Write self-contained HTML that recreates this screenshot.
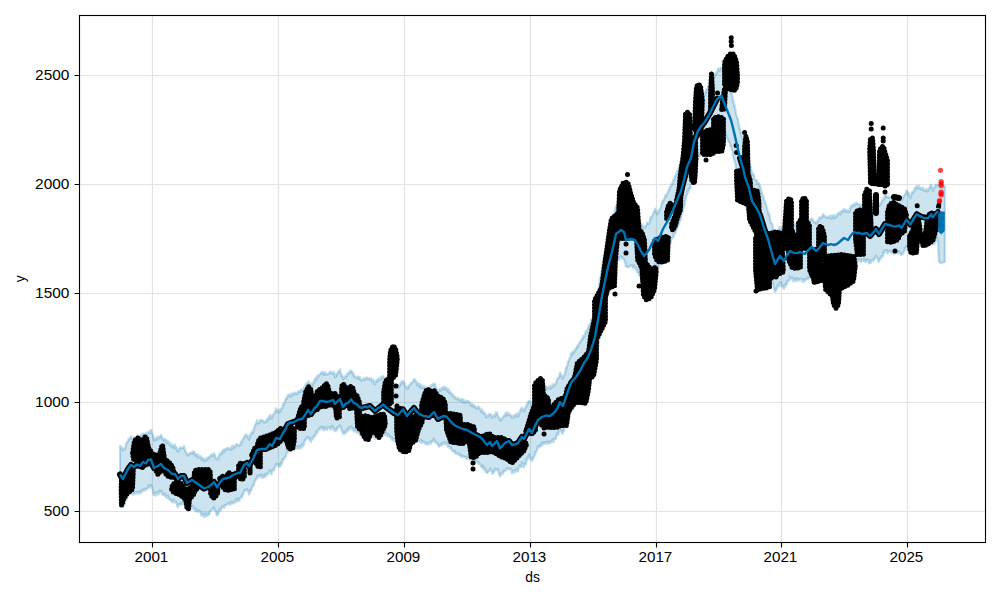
<!DOCTYPE html>
<html><head><meta charset="utf-8"><style>html,body{margin:0;padding:0;background:#fff;width:1000px;height:600px;overflow:hidden}svg{display:block}</style></head><body>
<svg width="1000" height="600" viewBox="0 0 1000 600">
<rect width="1000" height="600" fill="#fff"/>
<path d="M79.5 511.50H985.5 M79.5 402.50H985.5 M79.5 293.50H985.5 M79.5 184.50H985.5 M79.5 75.50H985.5 M152.50 15.5V542.5 M278.50 15.5V542.5 M404.50 15.5V542.5 M530.50 15.5V542.5 M656.50 15.5V542.5 M781.50 15.5V542.5 M907.50 15.5V542.5" stroke="#e3e3e3" stroke-width="1.2" fill="none"/>
<polygon points="120.0,445.9 120.5,447.8 121.0,448.1 121.5,447.2 122.0,447.8 122.5,448.7 123.0,450.7 123.5,448.6 124.0,449.5 124.5,448.3 125.0,448.7 125.5,447.3 126.0,443.7 126.5,443.3 127.0,441.9 127.5,442.5 128.0,441.2 128.5,438.7 129.0,440.3 129.5,438.3 130.0,438.2 130.5,438.7 131.0,436.1 131.5,437.4 132.0,438.5 132.5,439.7 133.0,438.0 133.5,437.4 134.0,437.3 134.5,439.5 135.0,439.5 135.5,438.5 136.0,437.6 136.5,438.1 137.0,436.4 137.5,435.2 138.0,437.5 138.5,438.4 139.0,437.1 139.5,436.0 140.0,436.8 140.5,435.7 141.0,435.3 141.5,435.6 142.0,433.8 142.5,434.8 143.0,435.1 143.5,433.5 144.0,434.0 144.5,436.4 145.0,433.8 145.5,434.3 146.0,435.8 146.5,432.8 147.0,433.3 147.5,434.5 148.0,432.1 148.5,432.6 149.0,433.3 149.5,433.1 150.0,431.3 150.5,430.2 151.0,429.9 151.5,431.9 152.0,433.8 152.5,434.0 153.0,435.7 153.5,436.9 154.0,440.4 154.5,438.9 155.0,439.0 155.5,440.5 156.0,438.9 156.5,437.3 157.0,437.9 157.5,439.4 158.0,436.3 158.5,437.8 159.0,437.5 159.5,437.1 160.0,438.0 160.5,435.5 161.0,434.8 161.5,436.8 162.0,436.7 162.5,439.1 163.0,439.9 163.5,440.5 164.0,439.0 164.5,439.7 165.0,438.8 165.5,439.9 166.0,442.6 166.5,442.8 167.0,443.1 167.5,440.7 168.0,440.9 168.5,442.9 169.0,444.2 169.5,444.1 170.0,442.5 170.5,446.0 171.0,445.9 171.5,444.3 172.0,445.4 172.5,447.7 173.0,445.6 173.5,446.8 174.0,444.7 174.5,447.5 175.0,444.7 175.5,448.6 176.0,447.1 176.5,447.2 177.0,451.0 177.5,450.3 178.0,450.8 178.5,451.7 179.0,449.1 179.5,448.6 180.0,448.1 180.5,447.2 181.0,447.5 181.5,448.3 182.0,447.7 182.5,448.0 183.0,448.1 183.5,447.8 184.0,446.2 184.5,448.0 185.0,451.1 185.5,450.9 186.0,452.9 186.5,452.4 187.0,454.1 187.5,455.7 188.0,454.6 188.5,455.6 189.0,454.2 189.5,453.5 190.0,453.0 190.5,452.8 191.0,453.3 191.5,453.9 192.0,452.2 192.5,453.6 193.0,451.3 193.5,451.5 194.0,451.8 194.5,454.7 195.0,452.8 195.5,454.9 196.0,456.0 196.5,454.0 197.0,455.0 197.5,457.4 198.0,454.8 198.5,456.4 199.0,455.7 199.5,457.9 200.0,457.7 200.5,456.1 201.0,458.7 201.5,457.1 202.0,460.0 202.5,458.0 203.0,458.1 203.5,459.3 204.0,460.2 204.5,461.5 205.0,458.9 205.5,460.2 206.0,458.3 206.5,460.2 207.0,457.8 207.5,459.7 208.0,457.5 208.5,457.0 209.0,458.0 209.5,457.9 210.0,456.5 210.5,457.0 211.0,455.1 211.5,454.5 212.0,455.0 212.5,456.2 213.0,454.8 213.5,453.9 214.0,453.1 214.5,455.8 215.0,454.7 215.5,458.3 216.0,458.8 216.5,458.6 217.0,459.1 217.5,459.5 218.0,457.5 218.5,458.1 219.0,456.3 219.5,454.4 220.0,453.7 220.5,453.7 221.0,452.3 221.5,454.5 222.0,451.6 222.5,451.0 223.0,449.8 223.5,450.0 224.0,452.5 224.5,449.7 225.0,449.8 225.5,448.6 226.0,450.2 226.5,449.0 227.0,448.2 227.5,448.3 228.0,447.9 228.5,448.5 229.0,449.3 229.5,449.7 230.0,449.3 230.5,447.9 231.0,449.7 231.5,448.6 232.0,445.9 232.5,448.7 233.0,447.8 233.5,445.5 234.0,446.6 234.5,447.5 235.0,446.5 235.5,446.7 236.0,444.8 236.5,444.3 237.0,444.0 237.5,445.4 238.0,445.5 238.5,445.0 239.0,446.1 239.5,445.0 240.0,445.6 240.5,444.9 241.0,441.5 241.5,442.8 242.0,441.9 242.5,440.0 243.0,438.9 243.5,439.0 244.0,437.5 244.5,435.4 245.0,437.2 245.5,436.2 246.0,434.1 246.5,436.0 247.0,435.6 247.5,435.8 248.0,436.4 248.5,438.7 249.0,439.7 249.5,435.4 250.0,437.4 250.5,435.2 251.0,433.5 251.5,432.6 252.0,431.5 252.5,433.5 253.0,432.2 253.5,431.3 254.0,427.8 254.5,427.6 255.0,424.7 255.5,425.2 256.0,423.0 256.5,422.5 257.0,420.2 257.5,423.1 258.0,423.3 258.5,423.1 259.0,421.0 259.5,423.2 260.0,420.7 260.5,420.3 261.0,419.6 261.5,420.2 262.0,420.1 262.5,421.0 263.0,420.5 263.5,422.4 264.0,421.5 264.5,422.6 265.0,421.8 265.5,421.8 266.0,421.9 266.5,419.6 267.0,421.3 267.5,419.0 268.0,417.8 268.5,419.6 269.0,417.8 269.5,416.8 270.0,414.8 270.5,415.4 271.0,417.0 271.5,419.0 272.0,417.8 272.5,415.9 273.0,415.4 273.5,414.1 274.0,414.3 274.5,413.9 275.0,411.7 275.5,410.6 276.0,408.4 276.5,411.8 277.0,410.3 277.5,411.7 278.0,409.7 278.5,410.3 279.0,412.4 279.5,412.2 280.0,409.3 280.5,411.5 281.0,409.4 281.5,407.8 282.0,408.4 282.5,408.0 283.0,404.0 283.5,404.5 284.0,405.1 284.5,403.1 285.0,401.5 285.5,399.0 286.0,398.8 286.5,399.3 287.0,396.5 287.5,397.4 288.0,394.6 288.5,395.9 289.0,395.2 289.5,395.8 290.0,394.5 290.5,396.7 291.0,396.3 291.5,393.7 292.0,396.2 292.5,393.6 293.0,394.1 293.5,393.6 294.0,394.4 294.5,392.6 295.0,392.8 295.5,393.8 296.0,394.1 296.5,392.9 297.0,394.4 297.5,393.7 298.0,391.3 298.5,391.4 299.0,392.0 299.5,390.8 300.0,392.3 300.5,390.2 301.0,390.3 301.5,389.9 302.0,389.4 302.5,391.7 303.0,390.3 303.5,390.3 304.0,386.9 304.5,388.1 305.0,387.1 305.5,385.3 306.0,383.8 306.5,383.5 307.0,385.1 307.5,384.4 308.0,381.5 308.5,383.8 309.0,381.7 309.5,383.5 310.0,383.6 310.5,386.8 311.0,385.7 311.5,386.2 312.0,382.9 312.5,385.3 313.0,384.0 313.5,381.8 314.0,383.3 314.5,380.1 315.0,379.6 315.5,377.7 316.0,380.3 316.5,379.7 317.0,376.4 317.5,378.3 318.0,375.5 318.5,374.9 319.0,376.0 319.5,374.8 320.0,374.2 320.5,373.5 321.0,372.5 321.5,374.3 322.0,372.2 322.5,372.5 323.0,371.8 323.5,373.0 324.0,375.0 324.5,372.9 325.0,372.4 325.5,374.7 326.0,373.0 326.5,374.3 327.0,374.6 327.5,374.2 328.0,374.7 328.5,373.5 329.0,374.0 329.5,372.1 330.0,371.6 330.5,373.0 331.0,372.2 331.5,372.5 332.0,373.4 332.5,373.9 333.0,371.9 333.5,374.2 334.0,372.3 334.5,373.6 335.0,377.7 335.5,377.0 336.0,376.3 336.5,373.6 337.0,375.6 337.5,373.8 338.0,372.0 338.5,371.2 339.0,371.1 339.5,372.0 340.0,369.2 340.5,373.0 341.0,373.0 341.5,376.1 342.0,374.8 342.5,377.3 343.0,379.5 343.5,377.3 344.0,377.7 344.5,376.9 345.0,376.4 345.5,376.1 346.0,377.5 346.5,375.2 347.0,376.1 347.5,373.0 348.0,374.0 348.5,373.5 349.0,373.2 349.5,371.2 350.0,372.9 350.5,370.5 351.0,371.0 351.5,370.8 352.0,372.7 352.5,371.8 353.0,374.9 353.5,373.3 354.0,376.6 354.5,375.3 355.0,377.2 355.5,377.4 356.0,377.4 356.5,377.6 357.0,376.5 357.5,378.4 358.0,376.5 358.5,377.9 359.0,376.8 359.5,379.2 360.0,377.1 360.5,380.0 361.0,380.6 361.5,380.0 362.0,380.5 362.5,379.6 363.0,379.5 363.5,379.4 364.0,377.8 364.5,379.3 365.0,380.2 365.5,379.0 366.0,378.9 366.5,377.5 367.0,377.3 367.5,378.7 368.0,379.0 368.5,379.2 369.0,378.3 369.5,378.1 370.0,379.6 370.5,379.8 371.0,379.8 371.5,378.4 372.0,380.0 372.5,382.0 373.0,382.0 373.5,379.9 374.0,382.9 374.5,383.9 375.0,384.1 375.5,382.6 376.0,381.1 376.5,381.8 377.0,379.7 377.5,379.7 378.0,381.2 378.5,379.0 379.0,378.4 379.5,379.8 380.0,380.3 380.5,378.8 381.0,376.7 381.5,378.2 382.0,378.4 382.5,378.7 383.0,376.0 383.5,376.7 384.0,378.3 384.5,379.0 385.0,378.8 385.5,379.0 386.0,378.5 386.5,377.9 387.0,380.4 387.5,380.4 388.0,379.3 388.5,381.6 389.0,379.5 389.5,380.2 390.0,381.0 390.5,382.7 391.0,383.2 391.5,381.8 392.0,382.6 392.5,382.4 393.0,385.6 393.5,384.3 394.0,383.2 394.5,385.5 395.0,386.0 395.5,387.3 396.0,385.1 396.5,384.6 397.0,386.2 397.5,385.2 398.0,385.2 398.5,388.0 399.0,384.8 399.5,385.4 400.0,385.9 400.5,383.6 401.0,382.1 401.5,384.2 402.0,380.8 402.5,382.9 403.0,382.4 403.5,381.3 404.0,382.2 404.5,383.3 405.0,385.5 405.5,386.3 406.0,386.6 406.5,388.2 407.0,387.2 407.5,389.1 408.0,388.2 408.5,385.4 409.0,386.6 409.5,386.0 410.0,385.9 410.5,383.1 411.0,383.9 411.5,383.5 412.0,382.2 412.5,382.4 413.0,380.9 413.5,380.8 414.0,379.0 414.5,379.1 415.0,380.1 415.5,380.6 416.0,382.1 416.5,381.6 417.0,384.7 417.5,385.0 418.0,383.0 418.5,384.4 419.0,386.3 419.5,383.9 420.0,387.2 420.5,384.6 421.0,384.9 421.5,387.8 422.0,387.3 422.5,387.6 423.0,386.0 423.5,388.6 424.0,387.3 424.5,386.4 425.0,387.4 425.5,387.8 426.0,390.1 426.5,389.8 427.0,386.9 427.5,388.5 428.0,388.2 428.5,389.0 429.0,390.3 429.5,389.7 430.0,386.2 430.5,388.4 431.0,385.2 431.5,386.5 432.0,384.9 432.5,384.9 433.0,384.1 433.5,383.7 434.0,384.7 434.5,383.5 435.0,384.2 435.5,387.3 436.0,388.0 436.5,388.0 437.0,390.7 437.5,391.5 438.0,389.9 438.5,392.2 439.0,390.1 439.5,389.3 440.0,390.1 440.5,390.7 441.0,389.0 441.5,388.0 442.0,389.6 442.5,387.6 443.0,389.5 443.5,386.9 444.0,389.4 444.5,387.1 445.0,389.1 445.5,387.3 446.0,387.8 446.5,388.9 447.0,388.4 447.5,391.3 448.0,388.8 448.5,389.4 449.0,393.1 449.5,392.8 450.0,391.5 450.5,391.8 451.0,393.4 451.5,394.0 452.0,395.7 452.5,395.8 453.0,394.4 453.5,395.7 454.0,397.8 454.5,396.9 455.0,396.7 455.5,398.1 456.0,398.7 456.5,399.3 457.0,398.8 457.5,398.0 458.0,397.6 458.5,400.2 459.0,399.9 459.5,399.3 460.0,400.2 460.5,400.6 461.0,399.1 461.5,401.4 462.0,400.6 462.5,399.1 463.0,399.8 463.5,402.7 464.0,399.8 464.5,401.5 465.0,401.5 465.5,402.8 466.0,401.4 466.5,400.8 467.0,401.6 467.5,400.9 468.0,402.1 468.5,402.1 469.0,401.4 469.5,403.2 470.0,403.3 470.5,403.1 471.0,406.0 471.5,403.7 472.0,404.6 472.5,403.9 473.0,406.6 473.5,405.6 474.0,405.0 474.5,405.7 475.0,407.6 475.5,406.6 476.0,407.2 476.5,408.5 477.0,408.8 477.5,407.3 478.0,407.7 478.5,406.5 479.0,407.7 479.5,408.0 480.0,408.7 480.5,410.1 481.0,411.7 481.5,409.1 482.0,412.7 482.5,410.6 483.0,412.9 483.5,411.2 484.0,414.1 484.5,412.7 485.0,413.8 485.5,414.7 486.0,417.3 486.5,415.2 487.0,417.4 487.5,417.1 488.0,417.0 488.5,414.4 489.0,415.1 489.5,414.3 490.0,414.2 490.5,414.0 491.0,416.0 491.5,416.9 492.0,418.0 492.5,417.6 493.0,415.2 493.5,416.4 494.0,416.6 494.5,415.0 495.0,416.7 495.5,415.0 496.0,412.3 496.5,414.2 497.0,412.4 497.5,414.3 498.0,416.9 498.5,417.5 499.0,417.4 499.5,418.8 500.0,420.6 500.5,418.9 501.0,419.1 501.5,420.0 502.0,419.5 502.5,417.8 503.0,417.2 503.5,417.2 504.0,415.5 504.5,414.8 505.0,415.5 505.5,413.1 506.0,415.9 506.5,412.6 507.0,412.2 507.5,415.3 508.0,414.1 508.5,414.7 509.0,413.4 509.5,414.4 510.0,415.0 510.5,415.6 511.0,416.6 511.5,415.2 512.0,418.0 512.5,417.4 513.0,417.8 513.5,416.7 514.0,415.6 514.5,415.5 515.0,416.5 515.5,414.2 516.0,414.0 516.5,416.6 517.0,416.8 517.5,413.4 518.0,415.3 518.5,416.0 519.0,413.2 519.5,413.3 520.0,410.7 520.5,409.5 521.0,409.1 521.5,408.3 522.0,407.7 522.5,410.3 523.0,410.8 523.5,408.9 524.0,411.8 524.5,410.8 525.0,409.5 525.5,407.9 526.0,406.1 526.5,406.8 527.0,403.3 527.5,405.1 528.0,402.3 528.5,400.8 529.0,401.0 529.5,401.2 530.0,402.1 530.5,401.7 531.0,403.2 531.5,404.8 532.0,404.6 532.5,405.5 533.0,403.1 533.5,400.2 534.0,401.4 534.5,399.0 535.0,400.2 535.5,397.8 536.0,396.1 536.5,394.8 537.0,394.5 537.5,394.2 538.0,390.2 538.5,391.3 539.0,392.4 539.5,389.2 540.0,391.6 540.5,390.4 541.0,391.0 541.5,390.0 542.0,388.4 542.5,389.0 543.0,387.5 543.5,390.0 544.0,388.6 544.5,387.9 545.0,387.0 545.5,388.7 546.0,386.0 546.5,388.5 547.0,387.9 547.5,389.1 548.0,387.7 548.5,386.7 549.0,386.7 549.5,387.4 550.0,387.6 550.5,386.4 551.0,389.0 551.5,385.5 552.0,387.5 552.5,386.5 553.0,385.8 553.5,383.7 554.0,386.3 554.5,384.6 555.0,384.7 555.5,384.6 556.0,383.5 556.5,380.8 557.0,379.9 557.5,378.3 558.0,378.9 558.5,377.3 559.0,377.8 559.5,375.5 560.0,372.6 560.5,373.8 561.0,375.8 561.5,376.6 562.0,376.5 562.5,379.0 563.0,377.0 563.5,375.6 564.0,376.4 564.5,374.7 565.0,373.0 565.5,371.0 566.0,367.4 566.5,368.4 567.0,366.6 567.5,365.0 568.0,361.8 568.5,361.0 569.0,360.4 569.5,358.2 570.0,358.4 570.5,357.2 571.0,353.3 571.5,353.4 572.0,355.1 572.5,351.9 573.0,351.1 573.5,353.2 574.0,351.2 574.5,352.0 575.0,350.7 575.5,348.6 576.0,349.8 576.5,347.0 577.0,346.7 577.5,345.5 578.0,347.2 578.5,344.1 579.0,343.8 579.5,342.4 580.0,341.4 580.5,342.6 581.0,340.9 581.5,339.1 582.0,338.5 582.5,339.8 583.0,335.6 583.5,337.4 584.0,335.8 584.5,336.1 585.0,334.8 585.5,331.7 586.0,333.5 586.5,330.5 587.0,332.5 587.5,330.1 588.0,327.6 588.5,328.4 589.0,325.0 589.5,325.8 590.0,323.4 590.5,323.5 591.0,323.1 591.5,319.3 592.0,319.6 592.5,317.9 593.0,316.6 593.5,315.1 594.0,312.2 594.5,312.1 595.0,310.3 595.5,305.0 596.0,302.7 596.5,299.8 597.0,295.6 597.5,294.3 598.0,290.2 598.5,289.8 599.0,285.2 599.5,282.5 600.0,278.4 600.5,278.6 601.0,274.0 601.5,271.1 602.0,269.7 602.5,264.4 603.0,262.1 603.5,258.8 604.0,258.7 604.5,253.9 605.0,253.5 605.5,251.6 606.0,249.8 606.5,244.5 607.0,243.7 607.5,240.6 608.0,238.7 608.5,237.5 609.0,234.0 609.5,234.3 610.0,232.7 610.5,229.2 611.0,229.0 611.5,225.5 612.0,225.0 612.5,220.8 613.0,219.3 613.5,218.3 614.0,216.1 614.5,211.1 615.0,212.1 615.5,207.3 616.0,206.5 616.5,205.7 617.0,205.0 617.5,203.1 618.0,206.1 618.5,205.6 619.0,204.7 619.5,204.6 620.0,203.3 620.5,203.0 621.0,202.2 621.5,202.8 622.0,202.7 622.5,204.6 623.0,202.6 623.5,202.3 624.0,205.6 624.5,205.2 625.0,208.1 625.5,208.6 626.0,211.3 626.5,211.1 627.0,210.3 627.5,212.9 628.0,211.9 628.5,210.4 629.0,211.3 629.5,211.7 630.0,210.5 630.5,210.1 631.0,210.6 631.5,209.4 632.0,212.6 632.5,211.6 633.0,210.7 633.5,210.9 634.0,210.5 634.5,213.2 635.0,210.4 635.5,212.6 636.0,212.3 636.5,216.2 637.0,214.1 637.5,215.6 638.0,217.4 638.5,219.1 639.0,219.7 639.5,220.7 640.0,221.7 640.5,223.1 641.0,223.8 641.5,224.4 642.0,224.3 642.5,225.5 643.0,227.2 643.5,227.5 644.0,227.8 644.5,228.2 645.0,226.4 645.5,225.8 646.0,226.6 646.5,225.0 647.0,223.3 647.5,222.5 648.0,223.5 648.5,224.1 649.0,223.2 649.5,222.7 650.0,219.7 650.5,217.2 651.0,218.2 651.5,218.5 652.0,216.1 652.5,215.1 653.0,214.7 653.5,212.5 654.0,211.5 654.5,211.6 655.0,208.6 655.5,210.1 656.0,211.3 656.5,213.2 657.0,211.8 657.5,214.3 658.0,213.1 658.5,210.6 659.0,212.3 659.5,209.4 660.0,209.6 660.5,208.2 661.0,207.2 661.5,203.4 662.0,203.4 662.5,201.1 663.0,201.5 663.5,199.6 664.0,199.7 664.5,198.1 665.0,196.8 665.5,194.8 666.0,197.0 666.5,195.5 667.0,194.0 667.5,192.2 668.0,192.1 668.5,191.3 669.0,188.6 669.5,189.9 670.0,186.6 670.5,187.1 671.0,186.4 671.5,183.4 672.0,185.0 672.5,183.8 673.0,180.8 673.5,179.4 674.0,179.9 674.5,178.2 675.0,175.6 675.5,176.3 676.0,174.6 676.5,172.7 677.0,174.0 677.5,170.5 678.0,171.1 678.5,169.2 679.0,167.7 679.5,165.6 680.0,166.1 680.5,163.5 681.0,162.9 681.5,160.2 682.0,158.8 682.5,159.2 683.0,155.9 683.5,154.0 684.0,151.7 684.5,148.5 685.0,147.1 685.5,144.4 686.0,142.4 686.5,141.8 687.0,137.8 687.5,136.4 688.0,138.0 688.5,135.4 689.0,135.6 689.5,132.8 690.0,131.8 690.5,130.1 691.0,130.0 691.5,127.2 692.0,125.4 692.5,123.4 693.0,118.9 693.5,117.1 694.0,115.3 694.5,112.7 695.0,110.4 695.5,109.5 696.0,108.7 696.5,106.7 697.0,104.6 697.5,103.7 698.0,101.6 698.5,101.8 699.0,100.9 699.5,100.3 700.0,99.0 700.5,98.9 701.0,100.5 701.5,99.7 702.0,96.3 702.5,95.3 703.0,96.9 703.5,95.4 704.0,95.7 704.5,95.4 705.0,93.8 705.5,91.1 706.0,92.5 706.5,89.2 707.0,88.8 707.5,88.5 708.0,86.7 708.5,88.0 709.0,87.9 709.5,86.6 710.0,84.8 710.5,83.5 711.0,84.2 711.5,81.2 712.0,82.3 712.5,78.4 713.0,77.6 713.5,77.0 714.0,77.9 714.5,76.7 715.0,75.9 715.5,73.2 716.0,74.6 716.5,73.5 717.0,71.9 717.5,71.1 718.0,68.7 718.5,69.6 719.0,71.1 719.5,70.1 720.0,69.5 720.5,67.6 721.0,69.7 721.5,67.8 722.0,67.3 722.5,70.1 723.0,71.3 723.5,74.0 724.0,73.5 724.5,75.8 725.0,78.5 725.5,77.5 726.0,78.1 726.5,80.1 727.0,82.1 727.5,82.0 728.0,84.8 728.5,86.7 729.0,85.6 729.5,87.7 730.0,87.9 730.5,89.6 731.0,91.8 731.5,93.4 732.0,95.5 732.5,96.5 733.0,101.8 733.5,100.5 734.0,105.7 734.5,104.8 735.0,108.1 735.5,110.7 736.0,114.2 736.5,115.3 737.0,117.5 737.5,118.3 738.0,119.6 738.5,124.7 739.0,124.5 739.5,129.1 740.0,128.8 740.5,132.9 741.0,132.7 741.5,136.2 742.0,136.2 742.5,137.9 743.0,139.1 743.5,142.5 744.0,145.7 744.5,148.2 745.0,149.0 745.5,149.1 746.0,152.0 746.5,153.8 747.0,154.3 747.5,154.4 748.0,157.0 748.5,159.4 749.0,161.2 749.5,163.2 750.0,163.6 750.5,166.6 751.0,168.1 751.5,171.4 752.0,174.5 752.5,173.1 753.0,174.8 753.5,174.3 754.0,175.6 754.5,178.7 755.0,179.1 755.5,180.3 756.0,180.5 756.5,180.8 757.0,180.3 757.5,183.6 758.0,183.5 758.5,183.4 759.0,183.3 759.5,186.6 760.0,185.5 760.5,188.2 761.0,189.9 761.5,192.1 762.0,192.1 762.5,196.5 763.0,195.4 763.5,197.5 764.0,200.1 764.5,201.3 765.0,201.8 765.5,202.7 766.0,205.8 766.5,206.5 767.0,208.0 767.5,209.8 768.0,211.9 768.5,214.6 769.0,213.2 769.5,216.1 770.0,220.0 770.5,221.2 771.0,223.0 771.5,222.8 772.0,223.8 772.5,226.2 773.0,229.7 773.5,232.1 774.0,233.8 774.5,235.8 775.0,234.8 775.5,234.6 776.0,235.0 776.5,232.2 777.0,233.7 777.5,232.8 778.0,231.6 778.5,230.6 779.0,228.2 779.5,229.4 780.0,226.9 780.5,229.8 781.0,227.9 781.5,228.5 782.0,229.4 782.5,230.4 783.0,231.3 783.5,233.7 784.0,233.7 784.5,233.8 785.0,230.8 785.5,230.5 786.0,230.7 786.5,227.7 787.0,228.6 787.5,227.1 788.0,227.6 788.5,226.8 789.0,223.1 789.5,222.8 790.0,223.3 790.5,222.1 791.0,223.4 791.5,223.3 792.0,222.2 792.5,223.7 793.0,224.4 793.5,223.1 794.0,225.6 794.5,224.1 795.0,224.0 795.5,224.9 796.0,226.4 796.5,224.8 797.0,225.8 797.5,224.9 798.0,223.8 798.5,225.3 799.0,225.7 799.5,223.4 800.0,224.9 800.5,224.7 801.0,224.6 801.5,223.0 802.0,224.2 802.5,224.9 803.0,224.3 803.5,224.9 804.0,223.8 804.5,225.6 805.0,226.2 805.5,224.3 806.0,224.3 806.5,225.3 807.0,225.6 807.5,225.0 808.0,221.5 808.5,222.8 809.0,221.5 809.5,221.2 810.0,219.4 810.5,221.9 811.0,219.1 811.5,218.3 812.0,219.7 812.5,219.1 813.0,220.4 813.5,221.0 814.0,221.8 814.5,221.9 815.0,223.1 815.5,221.9 816.0,221.9 816.5,223.8 817.0,223.4 817.5,220.7 818.0,221.3 818.5,220.8 819.0,218.0 819.5,217.4 820.0,217.8 820.5,218.2 821.0,217.2 821.5,218.2 822.0,217.9 822.5,216.0 823.0,214.4 823.5,214.0 824.0,216.4 824.5,216.7 825.0,215.9 825.5,216.2 826.0,216.6 826.5,217.3 827.0,217.4 827.5,217.8 828.0,218.0 828.5,216.8 829.0,217.1 829.5,215.7 830.0,216.9 830.5,218.0 831.0,218.8 831.5,217.9 832.0,215.3 832.5,215.4 833.0,217.2 833.5,218.6 834.0,215.7 834.5,217.6 835.0,215.2 835.5,217.1 836.0,217.6 836.5,216.0 837.0,216.3 837.5,214.3 838.0,213.3 838.5,212.8 839.0,213.7 839.5,212.2 840.0,213.2 840.5,214.7 841.0,211.6 841.5,211.3 842.0,210.8 842.5,212.2 843.0,210.1 843.5,209.4 844.0,208.8 844.5,211.6 845.0,211.4 845.5,210.0 846.0,210.9 846.5,210.0 847.0,211.9 847.5,212.0 848.0,211.0 848.5,210.8 849.0,212.0 849.5,211.3 850.0,208.6 850.5,207.3 851.0,206.2 851.5,206.1 852.0,205.2 852.5,206.7 853.0,204.8 853.5,205.4 854.0,205.7 854.5,203.2 855.0,204.9 855.5,204.4 856.0,204.2 856.5,202.9 857.0,204.1 857.5,203.5 858.0,203.7 858.5,204.0 859.0,204.0 859.5,205.4 860.0,205.0 860.5,207.1 861.0,204.7 861.5,207.3 862.0,205.2 862.5,205.1 863.0,204.2 863.5,205.4 864.0,205.1 864.5,206.2 865.0,205.6 865.5,206.0 866.0,206.5 866.5,204.7 867.0,204.7 867.5,205.1 868.0,205.7 868.5,208.3 869.0,207.4 869.5,206.6 870.0,207.6 870.5,206.3 871.0,208.1 871.5,207.7 872.0,206.4 872.5,205.6 873.0,203.8 873.5,202.1 874.0,204.6 874.5,203.1 875.0,201.2 875.5,202.5 876.0,201.8 876.5,201.9 877.0,203.3 877.5,204.0 878.0,203.3 878.5,204.3 879.0,205.9 879.5,205.2 880.0,203.3 880.5,205.0 881.0,202.8 881.5,203.0 882.0,199.8 882.5,200.0 883.0,200.5 883.5,199.8 884.0,197.2 884.5,198.0 885.0,194.8 885.5,194.7 886.0,197.3 886.5,196.2 887.0,196.1 887.5,197.3 888.0,196.7 888.5,197.8 889.0,197.6 889.5,197.2 890.0,196.9 890.5,197.0 891.0,196.6 891.5,196.2 892.0,198.7 892.5,197.5 893.0,199.4 893.5,198.6 894.0,197.0 894.5,199.0 895.0,197.5 895.5,197.7 896.0,198.6 896.5,197.4 897.0,198.8 897.5,197.2 898.0,199.1 898.5,199.2 899.0,197.0 899.5,197.1 900.0,199.1 900.5,198.8 901.0,200.6 901.5,198.0 902.0,199.0 902.5,199.5 903.0,197.4 903.5,196.4 904.0,195.8 904.5,195.6 905.0,193.8 905.5,193.9 906.0,193.4 906.5,190.5 907.0,191.0 907.5,191.7 908.0,194.6 908.5,192.7 909.0,195.7 909.5,193.9 910.0,195.8 910.5,198.2 911.0,197.0 911.5,194.2 912.0,192.2 912.5,192.4 913.0,191.7 913.5,192.9 914.0,190.8 914.5,188.3 915.0,190.4 915.5,189.6 916.0,186.4 916.5,186.8 917.0,186.2 917.5,186.9 918.0,188.0 918.5,188.7 919.0,185.9 919.5,187.9 920.0,188.4 920.5,187.6 921.0,187.9 921.5,189.8 922.0,188.7 922.5,188.8 923.0,187.5 923.5,189.7 924.0,190.6 924.5,189.8 925.0,191.1 925.5,190.7 926.0,190.4 926.5,189.1 927.0,191.2 927.5,191.6 928.0,188.8 928.5,190.6 929.0,188.6 929.5,187.5 930.0,188.4 930.5,185.5 931.0,184.8 931.5,186.1 932.0,188.1 932.5,189.0 933.0,190.7 933.5,189.8 934.0,189.1 934.5,187.1 935.0,186.5 935.5,185.3 936.0,184.3 936.5,186.0 937.0,185.2 937.5,185.2 938.0,185.0 939.0,185.0 941.0,185.0 944.8,186.0 944.8,262.0 941.0,263.0 939.0,262.0 938.0,240.2 937.5,237.7 937.0,238.2 936.5,239.9 936.0,240.6 935.5,241.5 935.0,242.4 934.5,240.8 934.0,244.8 933.5,242.3 933.0,243.5 932.5,242.6 932.0,242.1 931.5,240.8 931.0,242.7 930.5,242.8 930.0,241.5 929.5,244.8 929.0,244.5 928.5,246.2 928.0,243.7 927.5,244.0 927.0,243.7 926.5,243.8 926.0,245.4 925.5,244.6 925.0,244.8 924.5,243.3 924.0,242.8 923.5,242.6 923.0,243.9 922.5,245.3 922.0,245.4 921.5,244.1 921.0,244.4 920.5,244.5 920.0,242.5 919.5,242.5 919.0,241.9 918.5,242.4 918.0,240.8 917.5,241.1 917.0,241.3 916.5,241.2 916.0,240.9 915.5,242.4 915.0,245.2 914.5,244.2 914.0,245.5 913.5,246.8 913.0,246.5 912.5,247.3 912.0,250.8 911.5,249.9 911.0,249.3 910.5,252.6 910.0,251.4 909.5,251.2 909.0,249.9 908.5,250.0 908.0,249.0 907.5,246.6 907.0,248.7 906.5,245.9 906.0,248.4 905.5,248.5 905.0,247.5 904.5,250.8 904.0,252.0 903.5,251.6 903.0,253.9 902.5,253.0 902.0,254.0 901.5,255.0 901.0,255.1 900.5,253.7 900.0,252.8 899.5,251.2 899.0,253.0 898.5,253.3 898.0,251.4 897.5,252.9 897.0,252.1 896.5,253.3 896.0,252.1 895.5,252.4 895.0,251.3 894.5,253.4 894.0,252.8 893.5,254.4 893.0,251.7 892.5,252.2 892.0,252.1 891.5,251.6 891.0,252.9 890.5,250.7 890.0,251.7 889.5,251.2 889.0,251.5 888.5,250.6 888.0,252.8 887.5,251.4 887.0,253.3 886.5,249.9 886.0,251.3 885.5,250.6 885.0,250.1 884.5,250.5 884.0,253.9 883.5,251.9 883.0,255.8 882.5,255.7 882.0,257.2 881.5,255.9 881.0,257.8 880.5,258.6 880.0,258.0 879.5,260.1 879.0,261.8 878.5,261.6 878.0,259.7 877.5,258.7 877.0,257.0 876.5,257.2 876.0,255.6 875.5,256.1 875.0,257.6 874.5,259.5 874.0,258.4 873.5,259.8 873.0,261.2 872.5,260.3 872.0,260.0 871.5,259.6 871.0,262.9 870.5,261.0 870.0,262.1 869.5,262.9 869.0,263.5 868.5,259.7 868.0,259.7 867.5,260.1 867.0,261.7 866.5,259.4 866.0,261.0 865.5,262.0 865.0,260.6 864.5,261.1 864.0,258.8 863.5,260.9 863.0,260.8 862.5,259.3 862.0,259.8 861.5,261.7 861.0,262.4 860.5,260.1 860.0,260.5 859.5,259.0 859.0,261.1 858.5,260.8 858.0,259.7 857.5,259.8 857.0,261.1 856.5,261.4 856.0,258.1 855.5,258.4 855.0,257.6 854.5,260.2 854.0,257.3 853.5,261.0 853.0,261.8 852.5,259.5 852.0,260.5 851.5,263.2 851.0,264.5 850.5,265.4 850.0,262.6 849.5,266.8 849.0,264.5 848.5,267.3 848.0,268.4 847.5,268.1 847.0,266.3 846.5,266.9 846.0,267.4 845.5,265.1 845.0,266.7 844.5,264.4 844.0,266.3 843.5,265.7 843.0,267.7 842.5,266.8 842.0,265.7 841.5,266.9 841.0,266.7 840.5,268.5 840.0,270.0 839.5,269.0 839.0,270.4 838.5,269.9 838.0,270.5 837.5,271.4 837.0,270.1 836.5,270.0 836.0,270.8 835.5,270.2 835.0,269.7 834.5,273.2 834.0,270.8 833.5,271.5 833.0,270.9 832.5,272.0 832.0,270.7 831.5,270.5 831.0,271.0 830.5,271.5 830.0,272.6 829.5,270.2 829.0,273.6 828.5,271.2 828.0,273.7 827.5,271.1 827.0,272.5 826.5,270.5 826.0,270.6 825.5,271.6 825.0,271.1 824.5,270.3 824.0,268.9 823.5,268.9 823.0,268.5 822.5,271.4 822.0,269.5 821.5,271.9 821.0,270.5 820.5,272.0 820.0,273.4 819.5,274.5 819.0,274.3 818.5,274.6 818.0,275.4 817.5,277.2 817.0,275.8 816.5,277.9 816.0,278.1 815.5,276.2 815.0,278.4 814.5,275.0 814.0,277.7 813.5,274.4 813.0,276.3 812.5,273.4 812.0,273.0 811.5,273.7 811.0,273.3 810.5,274.7 810.0,275.9 809.5,277.8 809.0,278.0 808.5,279.3 808.0,276.8 807.5,278.8 807.0,278.4 806.5,279.7 806.0,279.3 805.5,278.9 805.0,280.3 804.5,280.6 804.0,281.9 803.5,279.1 803.0,279.2 802.5,279.5 802.0,281.6 801.5,279.0 801.0,279.1 800.5,278.7 800.0,279.0 799.5,280.0 799.0,279.8 798.5,280.6 798.0,278.5 797.5,279.9 797.0,280.5 796.5,280.6 796.0,278.0 795.5,281.4 795.0,280.1 794.5,279.9 794.0,279.2 793.5,278.5 793.0,281.3 792.5,277.5 792.0,279.3 791.5,278.2 791.0,278.8 790.5,277.7 790.0,276.4 789.5,280.3 789.0,279.1 788.5,280.9 788.0,280.9 787.5,280.9 787.0,282.6 786.5,285.0 786.0,283.0 785.5,286.8 785.0,285.1 784.5,285.4 784.0,289.1 783.5,287.5 783.0,285.5 782.5,286.8 782.0,285.7 781.5,286.0 781.0,282.5 780.5,283.9 780.0,282.8 779.5,282.9 779.0,286.1 778.5,286.5 778.0,284.8 777.5,285.4 777.0,289.4 776.5,288.1 776.0,290.6 775.5,291.1 775.0,291.9 774.5,290.6 774.0,287.7 773.5,286.2 773.0,283.7 772.5,281.5 772.0,280.8 771.5,278.3 771.0,275.4 770.5,273.9 770.0,273.6 769.5,270.3 769.0,270.9 768.5,268.6 768.0,264.6 767.5,265.4 767.0,264.6 766.5,260.3 766.0,259.0 765.5,259.2 765.0,258.0 764.5,256.6 764.0,254.1 763.5,251.9 763.0,253.1 762.5,250.3 762.0,247.3 761.5,246.5 761.0,245.4 760.5,243.9 760.0,242.6 759.5,240.8 759.0,238.9 758.5,240.4 758.0,237.3 757.5,236.9 757.0,236.3 756.5,235.6 756.0,232.8 755.5,234.0 755.0,234.5 754.5,233.5 754.0,231.1 753.5,228.9 753.0,229.1 752.5,228.6 752.0,226.8 751.5,227.0 751.0,223.4 750.5,221.2 750.0,219.9 749.5,216.9 749.0,216.3 748.5,211.8 748.0,211.1 747.5,209.2 747.0,211.2 746.5,206.9 746.0,205.2 745.5,204.7 745.0,204.0 744.5,203.4 744.0,200.2 743.5,197.7 743.0,193.3 742.5,194.5 742.0,191.9 741.5,189.4 741.0,187.2 740.5,187.5 740.0,186.0 739.5,184.4 739.0,181.2 738.5,177.8 738.0,177.3 737.5,172.9 737.0,171.1 736.5,171.4 736.0,168.2 735.5,163.7 735.0,162.2 734.5,161.1 734.0,159.2 733.5,157.8 733.0,155.9 732.5,151.2 732.0,149.8 731.5,148.9 731.0,145.6 730.5,146.5 730.0,143.7 729.5,142.2 729.0,141.2 728.5,141.9 728.0,139.3 727.5,138.8 727.0,137.9 726.5,136.8 726.0,134.6 725.5,134.6 725.0,131.4 724.5,130.5 724.0,128.5 723.5,128.8 723.0,125.7 722.5,124.4 722.0,123.3 721.5,121.8 721.0,123.5 720.5,123.6 720.0,124.9 719.5,122.5 719.0,123.2 718.5,124.9 718.0,126.0 717.5,125.5 717.0,127.2 716.5,127.7 716.0,127.7 715.5,127.5 715.0,131.2 714.5,130.6 714.0,130.5 713.5,134.5 713.0,135.0 712.5,134.1 712.0,136.4 711.5,135.4 711.0,139.0 710.5,137.2 710.0,140.7 709.5,140.0 709.0,141.9 708.5,141.3 708.0,142.7 707.5,143.7 707.0,143.9 706.5,144.2 706.0,147.4 705.5,149.0 705.0,147.2 704.5,148.6 704.0,149.1 703.5,151.2 703.0,150.8 702.5,152.6 702.0,151.9 701.5,154.6 701.0,155.0 700.5,154.3 700.0,156.1 699.5,155.0 699.0,155.1 698.5,157.3 698.0,158.2 697.5,160.0 697.0,162.0 696.5,160.6 696.0,162.8 695.5,165.4 695.0,167.2 694.5,167.8 694.0,167.6 693.5,170.6 693.0,173.4 692.5,177.3 692.0,178.8 691.5,181.0 691.0,184.0 690.5,187.7 690.0,188.9 689.5,189.2 689.0,188.3 688.5,191.8 688.0,190.4 687.5,192.0 687.0,194.7 686.5,195.6 686.0,196.7 685.5,199.7 685.0,201.7 684.5,206.0 684.0,205.4 683.5,208.4 683.0,209.3 682.5,211.7 682.0,213.2 681.5,215.0 681.0,219.1 680.5,220.5 680.0,219.3 679.5,221.1 679.0,224.3 678.5,225.5 678.0,224.3 677.5,227.6 677.0,228.7 676.5,227.0 676.0,230.2 675.5,232.7 675.0,233.6 674.5,233.0 674.0,234.1 673.5,237.3 673.0,236.2 672.5,237.5 672.0,238.4 671.5,238.2 671.0,242.1 670.5,243.2 670.0,241.8 669.5,242.6 669.0,243.8 668.5,245.7 668.0,248.8 667.5,248.5 667.0,249.2 666.5,248.8 666.0,251.1 665.5,250.9 665.0,253.2 664.5,254.4 664.0,252.6 663.5,256.9 663.0,256.4 662.5,256.1 662.0,258.4 661.5,258.8 661.0,260.5 660.5,263.8 660.0,263.9 659.5,263.0 659.0,266.8 658.5,266.1 658.0,269.1 657.5,266.9 657.0,267.4 656.5,266.5 656.0,267.4 655.5,265.7 655.0,264.5 654.5,266.1 654.0,268.6 653.5,268.3 653.0,268.6 652.5,270.1 652.0,272.8 651.5,273.0 651.0,273.0 650.5,272.4 650.0,276.5 649.5,274.9 649.0,278.2 648.5,277.0 648.0,276.7 647.5,279.1 647.0,278.7 646.5,279.8 646.0,281.9 645.5,280.6 645.0,282.0 644.5,281.7 644.0,282.8 643.5,281.6 643.0,282.5 642.5,280.0 642.0,281.0 641.5,278.7 641.0,275.7 640.5,275.2 640.0,276.4 639.5,274.7 639.0,274.7 638.5,273.0 638.0,273.3 637.5,271.8 637.0,269.7 636.5,270.4 636.0,267.7 635.5,268.7 635.0,266.6 634.5,266.7 634.0,265.2 633.5,267.6 633.0,268.3 632.5,266.3 632.0,265.3 631.5,265.6 631.0,266.3 630.5,266.1 630.0,265.3 629.5,266.2 629.0,266.6 628.5,267.3 628.0,267.1 627.5,267.1 627.0,267.0 626.5,266.0 626.0,266.7 625.5,263.7 625.0,261.7 624.5,260.9 624.0,259.0 623.5,259.0 623.0,258.9 622.5,257.2 622.0,257.4 621.5,256.4 621.0,258.5 620.5,256.6 620.0,257.0 619.5,256.5 619.0,260.0 618.5,259.5 618.0,260.4 617.5,258.5 617.0,260.2 616.5,259.0 616.0,260.5 615.5,263.0 615.0,267.1 614.5,267.8 614.0,271.3 613.5,273.7 613.0,276.2 612.5,276.2 612.0,278.4 611.5,282.5 611.0,282.8 610.5,284.3 610.0,288.1 609.5,287.2 609.0,290.5 608.5,293.4 608.0,292.7 607.5,295.0 607.0,298.8 606.5,299.8 606.0,304.3 605.5,304.4 605.0,308.3 604.5,311.0 604.0,311.9 603.5,314.0 603.0,319.1 602.5,319.1 602.0,322.0 601.5,324.3 601.0,329.1 600.5,332.0 600.0,336.3 599.5,338.8 599.0,341.6 598.5,345.0 598.0,347.4 597.5,349.6 597.0,352.5 596.5,355.6 596.0,357.0 595.5,362.3 595.0,363.2 594.5,365.5 594.0,365.5 593.5,370.2 593.0,369.9 592.5,370.5 592.0,373.4 591.5,373.8 591.0,377.3 590.5,378.9 590.0,378.2 589.5,380.4 589.0,380.0 588.5,381.5 588.0,384.7 587.5,383.6 587.0,385.0 586.5,386.4 586.0,387.4 585.5,386.2 585.0,388.1 584.5,387.6 584.0,389.3 583.5,389.4 583.0,391.2 582.5,394.5 582.0,395.8 581.5,393.9 581.0,395.2 580.5,396.0 580.0,399.4 579.5,400.5 579.0,401.0 578.5,400.2 578.0,400.4 577.5,400.9 577.0,402.2 576.5,404.6 576.0,404.2 575.5,403.0 575.0,403.9 574.5,405.7 574.0,405.8 573.5,407.5 573.0,409.1 572.5,408.0 572.0,410.2 571.5,411.0 571.0,411.5 570.5,410.3 570.0,411.0 569.5,412.8 569.0,414.3 568.5,415.5 568.0,417.6 567.5,420.6 567.0,420.3 566.5,424.1 566.0,422.7 565.5,427.2 565.0,427.8 564.5,426.9 564.0,431.5 563.5,431.0 563.0,431.3 562.5,434.1 562.0,430.4 561.5,430.6 561.0,432.0 560.5,429.9 560.0,430.7 559.5,429.8 559.0,429.8 558.5,434.1 558.0,435.0 557.5,433.2 557.0,434.9 556.5,435.0 556.0,439.0 555.5,439.0 555.0,438.4 554.5,438.5 554.0,440.0 553.5,442.1 553.0,439.0 552.5,440.6 552.0,440.3 551.5,442.4 551.0,441.8 550.5,441.0 550.0,443.1 549.5,443.2 549.0,443.6 548.5,441.7 548.0,443.1 547.5,442.8 547.0,444.1 546.5,441.6 546.0,443.6 545.5,442.5 545.0,443.8 544.5,442.0 544.0,443.9 543.5,442.5 543.0,444.5 542.5,444.9 542.0,442.5 541.5,445.9 541.0,445.9 540.5,444.3 540.0,446.8 539.5,447.1 539.0,447.6 538.5,446.9 538.0,446.1 537.5,447.3 537.0,450.6 536.5,450.9 536.0,452.7 535.5,451.7 535.0,454.7 534.5,455.0 534.0,456.8 533.5,458.5 533.0,457.1 532.5,459.9 532.0,461.0 531.5,459.0 531.0,459.2 530.5,459.1 530.0,458.0 529.5,456.9 529.0,454.4 528.5,458.3 528.0,458.8 527.5,457.5 527.0,460.5 526.5,459.2 526.0,463.7 525.5,464.6 525.0,464.8 524.5,463.5 524.0,467.3 523.5,466.5 523.0,463.9 522.5,463.6 522.0,462.3 521.5,466.1 521.0,467.2 520.5,466.9 520.0,465.3 519.5,466.7 519.0,467.1 518.5,469.2 518.0,471.6 517.5,469.8 517.0,470.1 516.5,470.8 516.0,469.3 515.5,471.1 515.0,472.6 514.5,470.9 514.0,471.1 513.5,470.6 513.0,472.7 512.5,471.4 512.0,473.5 511.5,469.7 511.0,469.2 510.5,469.8 510.0,468.3 509.5,469.0 509.0,468.5 508.5,468.7 508.0,469.5 507.5,469.1 507.0,467.9 506.5,468.5 506.0,469.7 505.5,470.6 505.0,471.0 504.5,470.9 504.0,470.4 503.5,472.7 503.0,473.9 502.5,471.9 502.0,473.0 501.5,473.1 501.0,474.6 500.5,474.7 500.0,476.5 499.5,474.2 499.0,474.3 498.5,472.2 498.0,468.8 497.5,469.2 497.0,469.7 496.5,470.1 496.0,469.4 495.5,470.0 495.0,468.5 494.5,470.2 494.0,472.2 493.5,471.7 493.0,473.2 492.5,473.8 492.0,473.0 491.5,470.7 491.0,469.4 490.5,468.7 490.0,468.2 489.5,470.9 489.0,470.9 488.5,471.2 488.0,472.2 487.5,472.9 487.0,473.0 486.5,472.8 486.0,471.9 485.5,469.0 485.0,470.7 484.5,467.9 484.0,467.7 483.5,469.6 483.0,465.7 482.5,468.0 482.0,467.3 481.5,466.9 481.0,466.4 480.5,464.1 480.0,464.5 479.5,463.7 479.0,462.6 478.5,464.0 478.0,461.9 477.5,461.9 477.0,461.7 476.5,461.7 476.0,460.7 475.5,461.0 475.0,462.6 474.5,461.7 474.0,462.7 473.5,461.0 473.0,461.0 472.5,461.2 472.0,459.0 471.5,460.8 471.0,459.5 470.5,460.0 470.0,458.0 469.5,459.2 469.0,457.9 468.5,457.5 468.0,456.0 467.5,459.0 467.0,457.9 466.5,457.5 466.0,458.4 465.5,456.7 465.0,457.0 464.5,457.2 464.0,456.5 463.5,456.2 463.0,457.0 462.5,456.0 462.0,457.3 461.5,455.0 461.0,455.8 460.5,456.5 460.0,454.5 459.5,454.4 459.0,453.5 458.5,455.0 458.0,453.7 457.5,454.1 457.0,453.2 456.5,453.6 456.0,453.4 455.5,453.7 455.0,451.0 454.5,452.6 454.0,451.1 453.5,451.9 453.0,451.0 452.5,450.2 452.0,450.0 451.5,450.4 451.0,447.1 450.5,447.1 450.0,448.1 449.5,446.8 449.0,447.5 448.5,445.4 448.0,446.9 447.5,445.4 447.0,442.9 446.5,442.6 446.0,443.0 445.5,442.3 445.0,444.6 444.5,442.5 444.0,442.1 443.5,443.1 443.0,443.8 442.5,443.5 442.0,444.9 441.5,445.5 441.0,443.9 440.5,445.3 440.0,445.9 439.5,445.1 439.0,446.9 438.5,445.8 438.0,445.1 437.5,443.4 437.0,442.8 436.5,443.0 436.0,442.0 435.5,442.7 435.0,441.8 434.5,440.4 434.0,439.0 433.5,438.5 433.0,441.6 432.5,441.7 432.0,441.0 431.5,442.6 431.0,442.0 430.5,444.2 430.0,441.9 429.5,442.3 429.0,442.5 428.5,442.9 428.0,444.5 427.5,444.7 427.0,443.3 426.5,443.9 426.0,443.4 425.5,442.7 425.0,444.0 424.5,442.2 424.0,442.7 423.5,441.7 423.0,441.0 422.5,441.4 422.0,443.0 421.5,442.7 421.0,439.6 420.5,439.9 420.0,442.3 419.5,441.8 419.0,441.6 418.5,441.0 418.0,439.9 417.5,440.1 417.0,439.5 416.5,436.7 416.0,436.4 415.5,438.5 415.0,434.6 414.5,437.1 414.0,435.4 413.5,434.9 413.0,437.0 412.5,438.0 412.0,438.5 411.5,439.6 411.0,439.1 410.5,440.5 410.0,439.0 409.5,439.5 409.0,442.3 408.5,440.3 408.0,440.1 407.5,441.4 407.0,443.5 406.5,442.3 406.0,441.1 405.5,439.7 405.0,441.0 404.5,439.8 404.0,436.5 403.5,435.9 403.0,436.3 402.5,436.9 402.0,438.8 401.5,438.9 401.0,440.1 400.5,438.5 400.0,438.6 399.5,440.9 399.0,441.3 398.5,440.2 398.0,442.2 397.5,442.8 397.0,440.6 396.5,441.4 396.0,442.5 395.5,441.6 395.0,440.3 394.5,439.7 394.0,440.5 393.5,438.8 393.0,440.3 392.5,439.4 392.0,437.2 391.5,439.7 391.0,437.7 390.5,436.3 390.0,437.3 389.5,436.2 389.0,435.8 388.5,434.3 388.0,434.7 387.5,436.8 387.0,434.8 386.5,433.3 386.0,432.3 385.5,434.3 385.0,435.0 384.5,431.9 384.0,430.7 383.5,430.8 383.0,432.5 382.5,432.2 382.0,431.5 381.5,432.3 381.0,434.9 380.5,434.9 380.0,434.1 379.5,433.8 379.0,434.9 378.5,436.2 378.0,437.0 377.5,437.5 377.0,435.2 376.5,436.1 376.0,436.3 375.5,439.1 375.0,436.7 374.5,436.7 374.0,435.8 373.5,436.0 373.0,437.6 372.5,434.3 372.0,436.6 371.5,436.2 371.0,435.1 370.5,435.3 370.0,431.7 369.5,432.7 369.0,431.6 368.5,434.4 368.0,432.0 367.5,432.0 367.0,433.5 366.5,433.6 366.0,432.6 365.5,433.0 365.0,435.3 364.5,433.4 364.0,434.9 363.5,434.4 363.0,435.3 362.5,435.2 362.0,434.3 361.5,434.9 361.0,433.0 360.5,432.4 360.0,434.0 359.5,434.9 359.0,432.2 358.5,432.4 358.0,432.1 357.5,431.0 357.0,433.1 356.5,430.6 356.0,430.0 355.5,431.4 355.0,430.2 354.5,428.7 354.0,431.7 353.5,428.1 353.0,430.5 352.5,428.2 352.0,429.2 351.5,426.3 351.0,426.5 350.5,427.4 350.0,428.9 349.5,428.1 349.0,427.2 348.5,430.2 348.0,430.5 347.5,431.2 347.0,429.2 346.5,429.6 346.0,433.0 345.5,431.4 345.0,432.4 344.5,434.2 344.0,432.3 343.5,434.2 343.0,432.5 342.5,432.8 342.0,429.9 341.5,430.2 341.0,427.6 340.5,426.2 340.0,425.4 339.5,425.4 339.0,427.4 338.5,426.4 338.0,427.5 337.5,428.9 337.0,427.6 336.5,430.5 336.0,429.8 335.5,430.0 335.0,431.3 334.5,428.9 334.0,428.3 333.5,429.5 333.0,428.1 332.5,425.7 332.0,427.8 331.5,426.5 331.0,429.3 330.5,427.1 330.0,429.2 329.5,427.1 329.0,427.1 328.5,427.8 328.0,427.7 327.5,427.2 327.0,430.0 326.5,429.5 326.0,428.7 325.5,428.7 325.0,428.8 324.5,427.3 324.0,430.4 323.5,430.3 323.0,428.7 322.5,426.8 322.0,429.2 321.5,426.7 321.0,427.7 320.5,427.5 320.0,429.0 319.5,429.6 319.0,428.3 318.5,430.1 318.0,430.0 317.5,433.2 317.0,432.2 316.5,431.3 316.0,434.3 315.5,435.4 315.0,434.4 314.5,436.7 314.0,437.1 313.5,436.6 313.0,439.5 312.5,438.0 312.0,438.0 311.5,438.6 311.0,442.1 310.5,438.6 310.0,439.2 309.5,440.5 309.0,438.2 308.5,437.4 308.0,438.2 307.5,436.7 307.0,437.1 306.5,438.7 306.0,438.2 305.5,440.1 305.0,441.1 304.5,440.6 304.0,444.6 303.5,443.1 303.0,446.3 302.5,446.6 302.0,445.6 301.5,444.6 301.0,448.0 300.5,446.1 300.0,448.3 299.5,446.5 299.0,445.9 298.5,448.8 298.0,448.3 297.5,446.5 297.0,447.0 296.5,446.8 296.0,448.9 295.5,447.1 295.0,448.1 294.5,446.9 294.0,450.3 293.5,448.1 293.0,449.8 292.5,447.6 292.0,450.2 291.5,448.8 291.0,449.8 290.5,450.6 290.0,450.1 289.5,448.7 289.0,449.6 288.5,451.1 288.0,449.5 287.5,452.7 287.0,452.0 286.5,453.1 286.0,456.3 285.5,456.7 285.0,456.8 284.5,458.5 284.0,459.3 283.5,460.1 283.0,459.1 282.5,460.4 282.0,463.5 281.5,464.7 281.0,462.3 280.5,465.0 280.0,466.8 279.5,464.2 279.0,467.0 278.5,465.4 278.0,464.6 277.5,464.4 277.0,465.7 276.5,463.8 276.0,464.2 275.5,465.4 275.0,467.1 274.5,467.7 274.0,470.4 273.5,469.1 273.0,469.5 272.5,470.5 272.0,471.7 271.5,474.3 271.0,471.0 270.5,473.0 270.0,469.8 269.5,471.2 269.0,471.5 268.5,472.0 268.0,474.4 267.5,473.6 267.0,473.4 266.5,473.8 266.0,476.5 265.5,475.8 265.0,474.4 264.5,476.2 264.0,477.5 263.5,477.1 263.0,477.6 262.5,474.9 262.0,475.2 261.5,477.6 261.0,477.2 260.5,474.5 260.0,476.0 259.5,476.7 259.0,476.1 258.5,475.9 258.0,477.5 257.5,475.5 257.0,477.9 256.5,479.3 256.0,478.7 255.5,479.7 255.0,481.5 254.5,480.9 254.0,485.2 253.5,485.6 253.0,486.0 252.5,485.6 252.0,487.8 251.5,488.9 251.0,491.1 250.5,489.5 250.0,492.9 249.5,492.0 249.0,494.6 248.5,491.2 248.0,490.1 247.5,490.6 247.0,489.2 246.5,491.0 246.0,489.8 245.5,489.2 245.0,490.6 244.5,490.8 244.0,490.5 243.5,493.4 243.0,494.7 242.5,494.6 242.0,497.7 241.5,495.9 241.0,497.2 240.5,498.1 240.0,498.4 239.5,500.1 239.0,500.9 238.5,498.2 238.0,500.7 237.5,500.7 237.0,501.6 236.5,500.1 236.0,499.1 235.5,501.7 235.0,502.6 234.5,502.6 234.0,502.8 233.5,501.9 233.0,503.1 232.5,502.7 232.0,503.7 231.5,503.3 231.0,501.7 230.5,502.6 230.0,504.9 229.5,504.3 229.0,504.1 228.5,503.3 228.0,502.8 227.5,504.4 227.0,504.2 226.5,505.1 226.0,505.3 225.5,504.9 225.0,505.0 224.5,507.3 224.0,505.9 223.5,507.5 223.0,505.8 222.5,506.6 222.0,506.5 221.5,508.7 221.0,510.1 220.5,508.3 220.0,511.1 219.5,509.6 219.0,511.1 218.5,512.9 218.0,514.3 217.5,515.5 217.0,514.5 216.5,514.8 216.0,512.4 215.5,510.3 215.0,510.7 214.5,510.1 214.0,507.3 213.5,507.7 213.0,508.7 212.5,509.5 212.0,510.0 211.5,510.0 211.0,510.3 210.5,511.0 210.0,511.0 209.5,514.3 209.0,512.6 208.5,514.9 208.0,515.3 207.5,515.3 207.0,516.0 206.5,514.3 206.0,513.2 205.5,515.7 205.0,516.6 204.5,514.4 204.0,517.0 203.5,513.8 203.0,515.8 202.5,513.5 202.0,515.7 201.5,515.4 201.0,513.3 200.5,512.3 200.0,512.3 199.5,510.4 199.0,511.1 198.5,510.8 198.0,510.8 197.5,511.9 197.0,510.3 196.5,511.6 196.0,511.3 195.5,508.0 195.0,509.8 194.5,510.1 194.0,508.9 193.5,507.1 193.0,507.5 192.5,506.0 192.0,508.6 191.5,506.4 191.0,509.0 190.5,509.5 190.0,508.3 189.5,509.2 189.0,508.8 188.5,508.9 188.0,510.3 187.5,509.7 187.0,509.2 186.5,509.1 186.0,508.7 185.5,506.6 185.0,505.5 184.5,504.1 184.0,504.1 183.5,501.9 183.0,501.3 182.5,503.1 182.0,504.5 181.5,504.5 181.0,502.8 180.5,505.0 180.0,503.7 179.5,504.8 179.0,504.3 178.5,504.5 178.0,507.3 177.5,506.7 177.0,504.9 176.5,501.8 176.0,502.8 175.5,502.4 175.0,502.2 174.5,502.1 174.0,499.7 173.5,499.8 173.0,502.6 172.5,500.6 172.0,502.1 171.5,501.5 171.0,499.9 170.5,500.5 170.0,499.6 169.5,499.6 169.0,497.9 168.5,498.9 168.0,495.9 167.5,495.8 167.0,496.0 166.5,498.0 166.0,495.8 165.5,496.4 165.0,494.7 164.5,493.6 164.0,495.1 163.5,495.2 163.0,494.8 162.5,494.7 162.0,491.3 161.5,492.7 161.0,492.0 160.5,490.9 160.0,492.4 159.5,493.7 159.0,490.6 158.5,491.4 158.0,494.6 157.5,492.0 157.0,492.7 156.5,492.3 156.0,493.9 155.5,496.0 155.0,493.1 154.5,494.2 154.0,493.7 153.5,494.9 153.0,491.7 152.5,489.5 152.0,487.7 151.5,486.7 151.0,484.9 150.5,487.1 150.0,486.3 149.5,487.8 149.0,487.8 148.5,485.3 148.0,487.4 147.5,488.6 147.0,489.0 146.5,489.3 146.0,489.6 145.5,490.2 145.0,489.0 144.5,488.5 144.0,490.9 143.5,488.9 143.0,490.3 142.5,491.0 142.0,490.2 141.5,492.3 141.0,490.8 140.5,493.3 140.0,491.6 139.5,492.6 139.0,493.1 138.5,491.5 138.0,493.8 137.5,492.5 137.0,492.1 136.5,493.5 136.0,492.2 135.5,493.1 135.0,492.5 134.5,493.8 134.0,494.6 133.5,493.6 133.0,494.3 132.5,491.6 132.0,491.9 131.5,493.7 131.0,492.3 130.5,493.4 130.0,492.6 129.5,494.3 129.0,494.4 128.5,494.3 128.0,494.4 127.5,496.5 127.0,498.3 126.5,500.1 126.0,498.6 125.5,500.2 125.0,500.4 124.5,502.6 124.0,505.6 123.5,504.0 123.0,507.2 122.5,503.8 122.0,504.3 121.5,503.8 121.0,502.5 120.5,500.7 120.0,500.2" fill="#0072b2" fill-opacity="0.2" stroke="#0072b2" stroke-opacity="0.25" stroke-width="2.2" stroke-linejoin="round"/>
<path d="M909.5 236.4 L909.5 247.8 L911.1 253.3 L916.5 252.6 L917.3 241.5 L917.4 241.2 L917.4 241.0 L917.5 240.8 L917.6 240.6 L917.7 240.4 L917.8 240.2 L918.0 240.1 L918.1 239.9 L918.3 239.8 L918.5 239.6 L918.7 239.5 L918.9 239.5 L919.1 239.4 L919.3 239.4 L919.5 239.3 L919.8 239.3 L920.0 239.4 L920.2 239.4 L920.4 239.5 L920.6 239.6 L920.8 239.7 L921.0 239.8 L921.2 239.9 L921.3 240.1 L921.5 240.3 L921.6 240.5 L921.7 240.7 L921.8 240.9 L921.9 241.1 L923.1 246.0 L927.3 244.6 L932.7 241.0 L935.5 231.6 L937.5 221.8 L938.0 210.2 L937.7 211.7 L937.6 211.9 L937.5 212.1 L937.4 212.3 L937.3 212.5 L937.1 212.7 L937.0 212.9 L936.8 213.0 L936.6 213.1 L936.4 213.2 L936.2 213.3 L936.0 213.4 L935.7 213.4 L935.5 213.4 L935.3 213.4 L935.1 213.4 L930.6 212.7 L927.5 216.6 L925.6 232.1 L925.5 232.3 L925.4 232.6 L925.3 232.8 L924.4 234.6 L924.3 234.8 L924.2 235.0 L924.1 235.1 L923.9 235.3 L923.7 235.4 L923.5 235.5 L923.3 235.6 L923.1 235.7 L922.9 235.8 L922.7 235.8 L922.5 235.9 L922.2 235.8 L922.0 235.8 L921.8 235.8 L921.6 235.7 L921.4 235.6 L921.2 235.5 L921.0 235.4 L920.8 235.2 L920.7 235.1 L920.5 234.9 L920.4 234.7 L920.3 234.5 L920.2 234.3 L920.2 234.1 L920.1 233.9 L920.1 233.7 L920.1 233.4 L920.1 233.2 L920.2 233.0 L920.4 231.9 L918.6 219.0 L916.5 218.0 L913.6 222.4 L914.1 227.0 L914.1 227.2 L914.1 227.5 L914.1 227.7 L914.0 227.9 L914.0 228.2 L913.9 228.4 L913.7 228.6 L913.6 228.7 L913.4 228.9 L913.3 229.1 L913.2 229.1 L909.5 236.4Z M887.5 241.7 L891.8 242.4 L897.8 239.8 L899.5 235.6 L899.6 235.4 L899.7 235.2 L899.8 235.0 L900.0 234.8 L900.2 234.7 L904.5 231.2 L906.4 215.1 L904.7 209.0 L900.3 206.4 L896.4 204.4 L896.2 204.3 L896.0 204.2 L893.0 202.0 L889.4 204.9 L887.5 212.2 L887.5 241.7Z M870.5 182.4 L875.8 182.4 L875.9 182.4 L876.2 182.4 L876.4 182.4 L876.6 182.4 L876.8 182.5 L877.0 182.5 L877.2 182.6 L877.4 182.7 L877.6 182.8 L877.8 183.0 L878.0 183.1 L878.1 183.3 L878.2 183.5 L878.3 183.7 L878.4 183.9 L878.5 184.1 L878.6 184.3 L878.6 184.4 L887.5 184.4 L887.5 160.2 L884.5 150.5 L884.5 150.3 L883.7 146.6 L881.9 146.6 L879.5 150.4 L878.8 176.3 L878.8 176.5 L878.8 176.7 L878.7 177.0 L878.6 177.2 L878.5 177.4 L878.4 177.6 L878.2 177.7 L878.1 177.9 L877.9 178.1 L877.7 178.2 L877.5 178.3 L877.3 178.4 L877.1 178.4 L876.9 178.5 L876.6 178.5 L876.4 178.5 L876.2 178.5 L876.0 178.4 L875.7 178.4 L875.5 178.3 L875.3 178.2 L875.1 178.1 L875.0 177.9 L874.8 177.7 L874.7 177.6 L874.5 177.4 L874.4 177.2 L874.3 177.0 L874.3 176.7 L874.2 176.5 L874.2 176.3 L873.5 150.1 L872.6 137.9 L870.5 138.3 L869.6 150.0 L870.5 182.4Z M736.5 171.2 L736.5 180.0 L737.5 200.0 L740.7 201.6 L747.2 204.4 L747.4 204.5 L747.6 204.6 L747.8 204.8 L747.9 204.9 L748.1 205.1 L748.2 205.3 L748.3 205.5 L748.4 205.7 L748.5 205.9 L748.6 206.1 L748.6 206.3 L749.5 219.6 L756.2 233.0 L756.3 233.0 L756.4 233.2 L756.6 233.4 L756.7 233.6 L756.8 233.8 L756.9 234.0 L756.9 234.2 L756.9 234.4 L757.0 234.7 L756.9 234.9 L756.9 235.1 L756.9 235.3 L756.8 235.5 L756.7 235.7 L756.6 235.9 L756.4 236.1 L756.3 236.3 L756.1 236.4 L755.9 236.6 L755.5 236.8 L755.5 269.9 L757.4 289.9 L761.5 288.5 L761.7 288.5 L769.5 286.8 L769.5 280.4 L769.5 280.2 L769.5 280.0 L769.6 279.7 L769.6 279.5 L769.7 279.3 L769.9 279.1 L770.0 278.9 L770.2 278.7 L770.4 278.6 L770.6 278.5 L775.2 275.7 L775.4 275.6 L783.4 272.0 L782.5 250.8 L782.5 250.6 L782.5 250.4 L782.6 250.2 L782.6 249.9 L782.7 249.7 L782.8 249.5 L783.0 249.3 L783.1 249.2 L783.3 249.0 L783.5 248.9 L783.7 248.7 L783.9 248.6 L784.1 248.6 L784.3 248.5 L784.6 248.5 L784.8 248.4 L786.2 248.4 L786.5 248.5 L786.7 248.5 L786.9 248.5 L787.1 248.6 L787.3 248.7 L787.5 248.8 L787.7 249.0 L787.9 249.1 L788.0 249.3 L788.2 249.5 L788.3 249.7 L788.4 249.9 L788.5 250.1 L788.5 250.3 L788.5 250.5 L788.5 250.8 L788.5 259.7 L792.1 267.7 L795.1 268.4 L800.5 267.7 L800.5 250.8 L800.5 250.5 L800.5 250.3 L800.5 250.1 L800.6 249.9 L800.7 249.7 L800.8 249.5 L801.0 249.3 L801.1 249.1 L801.3 249.0 L801.5 248.8 L801.7 248.7 L801.9 248.6 L802.1 248.5 L802.3 248.5 L802.5 248.5 L802.8 248.4 L807.2 248.4 L807.5 248.5 L807.7 248.5 L807.9 248.5 L808.1 248.6 L808.3 248.7 L808.5 248.8 L808.7 249.0 L808.9 249.1 L809.0 249.3 L809.2 249.5 L809.3 249.7 L809.4 249.9 L809.5 250.1 L809.5 250.3 L809.5 250.5 L809.5 250.8 L809.5 269.7 L814.9 282.2 L821.0 280.6 L821.1 280.5 L821.3 280.4 L821.5 280.2 L821.7 280.1 L821.9 280.0 L822.1 280.0 L822.3 279.9 L822.6 279.9 L822.8 279.9 L823.0 279.9 L823.2 279.9 L823.5 280.0 L823.7 280.1 L823.9 280.2 L824.1 280.3 L824.2 280.4 L824.4 280.6 L824.5 280.8 L824.7 281.0 L824.8 281.2 L824.9 281.4 L824.9 281.6 L825.0 281.8 L825.0 282.0 L825.5 289.3 L831.9 295.7 L832.1 295.9 L832.2 296.1 L832.3 296.2 L832.4 296.4 L832.5 296.6 L832.5 296.8 L832.6 297.1 L833.5 304.4 L836.0 308.2 L838.5 304.5 L839.4 290.4 L839.4 290.1 L839.5 289.9 L839.6 289.7 L839.7 289.5 L839.8 289.3 L839.9 289.1 L840.1 288.9 L840.2 288.8 L840.4 288.6 L840.6 288.5 L840.8 288.4 L847.2 285.6 L853.5 281.1 L855.4 265.1 L853.9 257.2 L853.8 257.0 L853.8 256.8 L853.8 256.5 L853.8 256.4 L841.0 254.6 L831.2 255.5 L827.0 256.1 L826.8 256.1 L826.6 256.1 L826.3 256.0 L826.1 256.0 L825.9 255.9 L825.7 255.8 L825.5 255.7 L825.3 255.6 L825.1 255.4 L825.0 255.3 L824.8 255.1 L824.7 254.9 L824.6 254.7 L824.6 254.5 L824.5 254.2 L824.5 254.0 L824.5 253.8 L824.5 236.2 L822.6 228.7 L820.5 225.7 L818.5 228.5 L818.5 247.2 L818.5 247.5 L818.5 247.7 L818.5 247.9 L818.4 248.1 L818.3 248.3 L818.2 248.5 L818.0 248.7 L817.9 248.9 L817.7 249.0 L817.5 249.2 L817.3 249.3 L817.1 249.4 L816.9 249.5 L816.7 249.5 L816.5 249.5 L816.2 249.6 L811.8 249.6 L811.5 249.5 L811.3 249.5 L811.1 249.5 L810.9 249.4 L810.7 249.3 L810.5 249.2 L810.3 249.0 L810.1 248.9 L810.0 248.7 L809.8 248.5 L809.7 248.3 L809.6 248.1 L809.5 247.9 L809.5 247.7 L809.5 247.5 L809.5 247.2 L809.5 225.4 L806.8 221.0 L806.7 220.8 L806.6 220.6 L806.5 220.4 L806.5 220.2 L806.5 220.0 L806.5 219.8 L806.5 200.5 L804.0 197.5 L801.5 200.5 L801.5 217.7 L801.5 218.0 L801.5 218.2 L801.5 218.4 L801.4 218.6 L801.3 218.8 L801.2 219.0 L801.1 219.1 L798.5 222.5 L798.5 234.5 L798.5 234.8 L798.5 235.0 L798.4 235.2 L798.4 235.4 L798.3 235.6 L798.2 235.8 L798.0 236.0 L797.9 236.2 L797.7 236.3 L797.5 236.5 L797.3 236.6 L797.1 236.7 L796.9 236.7 L796.7 236.8 L796.4 236.8 L796.2 236.8 L796.0 236.8 L795.8 236.8 L795.5 236.7 L795.3 236.6 L795.1 236.5 L794.9 236.4 L794.7 236.3 L794.6 236.1 L794.4 235.9 L794.3 235.7 L794.2 235.5 L794.1 235.3 L791.6 228.7 L791.5 228.5 L791.5 228.3 L791.5 228.1 L791.5 227.9 L791.5 200.6 L789.4 198.2 L786.5 200.7 L784.5 230.1 L784.5 231.3 L784.5 231.5 L784.5 231.7 L784.4 232.0 L784.4 232.2 L784.3 232.4 L784.2 232.6 L784.0 232.8 L783.9 232.9 L783.7 233.1 L783.5 233.2 L783.3 233.3 L783.1 233.4 L782.9 233.5 L782.7 233.6 L782.4 233.6 L782.2 233.6 L782.0 233.6 L781.7 233.5 L781.5 233.5 L776.0 231.6 L770.6 233.4 L770.4 233.5 L770.1 233.5 L769.9 233.6 L761.7 233.6 L761.5 233.5 L761.3 233.5 L761.1 233.5 L760.9 233.4 L760.7 233.3 L760.5 233.2 L760.3 233.0 L760.1 232.9 L760.0 232.7 L759.8 232.5 L759.7 232.4 L759.6 232.2 L759.5 231.9 L759.5 231.7 L759.5 231.5 L759.4 231.3 L759.0 202.1 L757.6 191.2 L752.1 189.6 L751.9 189.6 L751.7 189.5 L751.5 189.4 L751.3 189.2 L751.1 189.1 L751.0 188.9 L750.8 188.7 L750.7 188.5 L750.6 188.3 L750.6 188.1 L750.5 187.9 L750.5 187.7 L750.5 187.4 L750.5 181.2 L748.4 174.6 L748.3 174.4 L748.3 174.1 L748.2 173.9 L747.5 142.2 L745.9 136.0 L744.5 147.1 L744.5 167.4 L744.5 167.6 L744.5 167.8 L744.5 168.1 L744.4 168.3 L744.3 168.5 L744.2 168.7 L744.1 168.8 L743.9 169.0 L743.8 169.1 L743.6 169.3 L743.4 169.4 L743.2 169.5 L743.0 169.6 L742.8 169.6 L736.5 171.2Z M821.7 256.5 L821.7 256.5 L821.9 256.4 L822.2 256.4 L822.4 256.4 L822.6 256.4 L822.8 256.5 L823.1 256.6 L823.3 256.7 L823.5 256.8 L823.7 256.9 L823.8 257.0 L824.0 257.2 L824.1 257.4 L824.3 257.6 L824.4 257.8 L824.4 258.0 L824.5 258.2 L824.5 258.5 L824.5 258.7 L824.5 265.0 L824.5 265.2 L824.5 265.4 L824.5 265.7 L824.4 265.9 L824.3 266.1 L824.2 266.3 L824.0 266.4 L823.9 266.6 L823.7 266.8 L823.5 266.9 L823.4 267.0 L823.2 267.1 L822.9 267.2 L822.7 267.2 L822.5 267.3 L822.3 267.3 L822.1 267.3 L821.8 267.3 L821.6 267.2 L821.4 267.1 L821.2 267.0 L821.0 266.9 L820.8 266.8 L820.7 266.7 L820.5 266.5 L820.4 266.3 L820.2 266.1 L820.1 265.9 L820.1 265.7 L820.0 265.5 L820.0 265.3 L820.0 265.1 L819.8 258.8 L819.8 258.6 L819.8 258.4 L819.9 258.1 L819.9 257.9 L820.0 257.7 L820.1 257.5 L820.3 257.3 L820.4 257.1 L820.6 257.0 L820.8 256.8 L821.0 256.7 L821.2 256.6 L821.4 256.5 L821.6 256.5 L821.7 256.5Z M857.3 254.4 L863.5 254.4 L863.5 236.4 L863.5 236.1 L863.5 235.9 L863.6 235.7 L863.6 235.5 L863.7 235.2 L863.9 235.0 L864.0 234.9 L864.2 234.7 L864.4 234.5 L871.4 229.3 L870.5 212.1 L870.5 212.1 L869.5 190.9 L866.8 189.3 L864.5 195.3 L864.5 208.3 L864.5 208.5 L864.5 208.8 L864.4 209.0 L864.4 209.2 L864.3 209.4 L864.1 209.6 L864.0 209.8 L863.8 210.0 L863.7 210.1 L863.5 210.2 L863.3 210.3 L863.1 210.4 L862.8 210.5 L862.6 210.6 L862.4 210.6 L862.2 210.6 L861.9 210.6 L861.7 210.5 L858.5 209.7 L855.5 212.6 L855.5 239.9 L857.3 254.0 L857.3 254.2 L857.3 254.4 L857.3 254.4Z M721.7 109.5 L724.5 109.5 L725.4 90.9 L725.4 90.6 L725.5 90.4 L725.5 90.2 L725.6 90.0 L725.7 89.8 L725.9 89.6 L726.0 89.4 L726.2 89.3 L726.4 89.1 L726.6 89.0 L726.8 88.9 L727.0 88.8 L727.2 88.7 L727.4 88.7 L727.7 88.7 L727.9 88.7 L728.1 88.7 L728.3 88.8 L734.0 90.4 L735.7 89.8 L737.5 82.8 L737.5 75.1 L736.5 62.2 L735.5 58.5 L733.8 54.2 L731.3 53.3 L729.0 55.1 L727.3 56.9 L724.5 62.4 L724.5 85.4 L724.9 85.7 L725.0 85.8 L725.1 86.0 L725.3 86.2 L725.4 86.4 L725.4 86.6 L725.5 86.8 L725.5 87.1 L725.5 87.3 L725.5 87.5 L725.5 87.8 L725.4 88.0 L725.3 88.2 L725.2 88.4 L725.1 88.6 L725.0 88.8 L724.8 88.9 L724.7 89.1 L724.5 89.2 L724.4 89.3 L722.5 100.2 L721.7 109.5Z M666.7 218.5 L668.6 215.3 L671.4 209.7 L671.5 209.5 L671.7 209.3 L671.8 209.1 L672.0 209.0 L672.2 208.8 L672.3 208.7 L672.1 208.6 L672.0 208.4 L671.8 208.3 L671.7 208.1 L671.6 207.9 L671.6 207.6 L671.5 207.4 L671.5 207.2 L671.5 207.0 L671.5 203.6 L670.6 202.5 L668.4 205.7 L666.5 212.2 L666.5 218.4 L666.7 218.5Z M674.9 208.9 L675.1 209.0 L675.2 209.2 L675.4 209.4 L675.5 209.6 L675.6 209.8 L675.7 210.0 L675.7 210.2 L675.8 210.4 L675.8 210.6 L675.8 210.9 L675.6 214.0 L675.5 214.2 L675.5 214.5 L675.4 214.7 L671.5 224.3 L671.5 228.5 L672.9 230.5 L675.1 226.4 L677.5 217.6 L677.6 217.4 L680.5 209.7 L680.9 197.0 L681.0 196.7 L682.5 187.8 L683.3 177.9 L683.3 177.7 L685.7 163.9 L685.7 150.1 L685.7 149.9 L685.7 149.6 L685.8 149.4 L685.9 148.8 L686.0 148.6 L686.1 148.4 L686.2 148.2 L686.4 148.0 L686.5 147.9 L686.7 147.7 L686.9 147.6 L687.1 147.5 L687.3 147.4 L687.5 147.3 L687.7 147.3 L688.0 147.2 L688.2 147.2 L688.4 147.2 L688.6 147.3 L688.9 147.3 L689.1 147.4 L689.3 147.5 L689.5 147.6 L689.6 147.8 L689.8 147.9 L690.0 148.1 L690.1 148.3 L690.2 148.5 L690.3 148.7 L690.4 148.9 L690.4 149.1 L690.4 149.4 L690.4 149.6 L690.4 149.8 L690.4 150.0 L690.3 150.2 L690.3 169.9 L691.9 181.2 L694.4 183.4 L694.5 183.3 L695.3 173.9 L696.0 158.0 L695.5 140.2 L695.5 140.1 L695.3 140.1 L695.1 140.1 L694.9 140.0 L694.6 140.0 L694.4 139.9 L694.2 139.8 L694.0 139.6 L691.2 137.3 L691.0 137.2 L690.9 137.0 L690.7 136.8 L690.6 136.6 L690.5 136.4 L690.4 136.2 L690.4 136.0 L690.3 135.7 L690.3 135.5 L690.3 135.3 L690.4 135.1 L690.4 134.8 L690.4 134.8 L690.2 128.9 L690.2 128.7 L690.2 128.4 L690.2 128.2 L690.3 128.0 L690.4 127.8 L690.5 127.6 L690.6 127.4 L690.7 127.3 L690.6 127.3 L690.5 127.1 L690.4 126.9 L690.2 126.7 L690.2 126.5 L690.1 126.3 L690.1 126.1 L690.0 125.8 L689.5 113.8 L687.1 112.0 L685.5 113.7 L684.5 140.0 L684.5 140.2 L683.1 156.1 L683.1 156.3 L681.5 166.2 L679.9 178.2 L679.1 188.1 L679.1 188.4 L676.5 200.2 L676.0 207.1 L676.0 207.4 L676.0 207.6 L675.9 207.8 L675.8 208.0 L675.7 208.2 L675.6 208.4 L675.4 208.6 L675.2 208.7 L675.1 208.9 L674.9 208.9Z M694.1 127.2 L694.2 127.3 L694.3 127.4 L694.5 127.6 L694.6 127.8 L694.6 128.0 L697.3 136.0 L698.2 134.1 L698.3 133.9 L698.4 133.8 L698.6 133.6 L698.8 133.4 L698.9 133.3 L699.1 133.2 L699.3 133.1 L699.5 133.0 L699.8 132.9 L700.0 132.9 L700.2 132.9 L700.4 132.9 L700.7 132.9 L700.9 133.0 L701.1 133.0 L701.3 133.1 L701.5 133.3 L701.7 133.4 L701.9 133.5 L702.0 133.7 L702.2 133.9 L702.3 134.1 L702.4 134.3 L702.4 134.5 L702.5 134.7 L702.5 134.9 L702.5 135.2 L702.5 154.4 L711.5 154.4 L714.9 151.9 L715.0 151.8 L715.2 151.7 L715.4 151.6 L715.6 151.5 L715.8 151.5 L716.0 151.5 L716.2 151.4 L721.8 151.4 L723.5 143.8 L723.5 118.2 L718.0 116.6 L713.5 118.1 L713.5 127.4 L713.5 127.6 L713.5 127.8 L713.4 128.0 L713.4 128.3 L713.3 128.5 L713.1 128.7 L713.0 128.9 L712.8 129.0 L712.7 129.2 L712.5 129.3 L712.3 129.4 L712.1 129.5 L711.9 129.6 L711.6 129.6 L706.5 130.5 L704.0 132.0 L703.8 132.1 L703.6 132.2 L703.4 132.3 L703.2 132.3 L702.9 132.3 L702.7 132.3 L702.5 132.3 L702.2 132.3 L702.0 132.2 L701.8 132.1 L701.6 132.0 L701.4 131.9 L701.3 131.7 L701.1 131.6 L701.0 131.4 L700.8 131.2 L700.7 131.0 L700.6 130.8 L700.6 130.6 L700.5 130.3 L700.5 130.1 L700.5 129.9 L700.6 129.7 L700.6 129.4 L700.7 129.2 L700.8 129.0 L701.5 127.6 L702.4 100.1 L700.5 85.8 L698.3 84.2 L696.5 86.6 L695.5 100.1 L694.6 125.8 L694.6 126.1 L694.6 126.3 L694.5 126.5 L694.4 126.7 L694.3 126.9 L694.2 127.1 L694.1 127.2Z M710.5 108.5 L712.5 108.5 L712.5 90.0 L711.6 73.1 L711.5 73.1 L710.5 92.0 L710.5 108.5Z M654.5 240.9 L654.5 254.7 L657.2 260.9 L660.2 262.4 L667.5 260.7 L668.4 237.2 L665.9 236.6 L660.5 237.5 L654.5 240.9Z M525.8 431.3 L530.1 434.2 L535.5 431.1 L535.5 422.5 L535.5 422.3 L535.5 422.1 L535.6 421.8 L535.6 421.6 L535.7 421.4 L535.8 421.2 L536.0 421.0 L536.1 420.9 L536.3 420.7 L536.5 420.6 L536.7 420.5 L536.9 420.4 L538.4 419.8 L538.6 419.7 L538.8 419.6 L539.0 419.6 L539.3 419.6 L539.5 419.6 L539.7 419.7 L539.9 419.7 L540.1 419.8 L540.3 419.9 L540.5 420.0 L540.7 420.1 L540.9 420.3 L541.0 420.5 L541.2 420.6 L541.3 420.8 L541.4 421.0 L541.5 421.2 L541.5 421.5 L541.5 421.7 L541.5 421.9 L541.5 424.9 L548.3 427.4 L556.7 427.4 L561.3 425.6 L561.5 425.5 L561.7 425.5 L561.9 425.5 L562.1 425.4 L566.6 425.4 L568.4 412.0 L568.5 411.8 L568.5 411.5 L568.6 411.3 L568.7 411.1 L568.9 410.9 L574.5 403.4 L574.7 403.2 L574.9 403.0 L575.0 402.9 L575.2 402.7 L575.5 402.6 L575.7 402.6 L575.9 402.5 L576.1 402.5 L576.4 402.4 L579.9 402.4 L580.3 402.5 L585.8 403.3 L588.5 389.8 L589.6 379.5 L589.6 379.3 L589.7 379.0 L589.8 378.8 L589.9 378.6 L590.0 378.4 L590.2 378.2 L590.3 378.0 L590.5 377.9 L590.7 377.8 L593.6 376.0 L596.5 359.9 L596.5 340.2 L596.5 340.0 L596.5 339.8 L596.5 339.5 L596.6 339.3 L596.7 339.1 L605.5 321.6 L605.5 298.1 L605.5 297.8 L605.5 297.5 L607.4 290.0 L607.5 289.8 L607.6 289.5 L607.7 289.3 L607.8 289.1 L608.0 289.0 L608.1 288.8 L608.3 288.7 L608.5 288.5 L608.7 288.4 L614.5 286.0 L615.5 260.0 L615.5 259.8 L617.4 240.5 L617.4 240.3 L617.5 240.1 L617.6 239.9 L617.7 239.7 L617.8 239.5 L617.9 239.3 L618.1 239.1 L618.2 239.0 L618.4 238.8 L618.6 238.7 L618.8 238.6 L619.0 238.5 L619.2 238.5 L619.5 238.5 L619.7 238.4 L627.8 238.4 L629.4 238.0 L629.6 237.9 L629.8 237.9 L630.1 237.9 L630.3 237.9 L634.5 238.4 L634.8 238.4 L635.0 238.5 L635.2 238.6 L635.4 238.7 L635.6 238.8 L635.8 238.9 L636.0 239.1 L636.1 239.3 L636.2 239.5 L636.4 239.7 L636.4 239.9 L636.5 240.1 L636.6 240.3 L636.6 240.6 L637.5 259.6 L641.3 267.1 L641.4 267.3 L641.5 267.5 L641.6 267.7 L641.7 267.9 L641.8 268.2 L641.8 268.4 L642.5 279.9 L642.5 279.9 L643.5 295.5 L646.5 300.0 L650.8 297.9 L654.5 289.6 L656.4 270.2 L655.3 266.9 L653.7 268.5 L653.5 268.7 L653.3 268.8 L653.1 268.9 L652.9 269.0 L652.7 269.1 L652.5 269.1 L652.3 269.2 L652.0 269.2 L651.8 269.2 L651.6 269.1 L651.4 269.1 L651.2 269.0 L651.0 268.9 L650.8 268.8 L650.6 268.6 L650.4 268.5 L650.3 268.3 L647.2 264.5 L647.2 264.5 L647.0 264.4 L646.8 264.3 L646.6 264.2 L646.4 264.1 L646.2 264.0 L646.1 263.8 L645.9 263.6 L645.8 263.4 L645.7 263.2 L645.6 263.0 L645.5 262.8 L645.5 262.6 L645.5 262.2 L645.5 262.0 L644.5 240.3 L641.9 231.6 L641.6 231.6 L641.4 231.6 L641.2 231.6 L641.0 231.6 L640.8 231.5 L640.5 231.4 L640.4 231.3 L640.2 231.2 L640.0 231.1 L639.8 230.9 L639.7 230.8 L639.6 230.6 L639.4 230.4 L639.4 230.2 L639.3 230.0 L639.2 229.8 L639.2 229.6 L638.5 222.2 L638.5 222.1 L637.5 207.6 L633.9 203.1 L633.8 202.9 L633.6 202.7 L633.5 202.5 L633.5 202.3 L630.5 192.5 L630.5 192.4 L628.5 184.5 L627.2 181.9 L623.1 183.3 L619.5 190.4 L618.6 211.7 L618.5 212.0 L618.5 212.2 L618.4 212.4 L618.3 212.7 L618.2 212.9 L618.1 213.0 L617.9 213.2 L617.8 213.4 L611.4 218.8 L609.5 230.2 L605.5 258.2 L601.6 287.1 L601.5 287.3 L601.5 287.5 L601.4 287.7 L601.3 287.9 L594.5 300.4 L594.5 317.9 L594.5 318.2 L594.5 318.4 L590.5 336.3 L588.7 351.0 L588.6 351.2 L588.6 351.4 L588.5 351.6 L588.4 351.8 L588.3 352.0 L588.2 352.2 L583.2 358.0 L583.1 358.1 L582.9 358.2 L577.4 362.8 L573.6 382.0 L573.5 382.2 L573.4 382.4 L573.4 382.6 L573.2 382.8 L573.1 383.0 L573.0 383.2 L572.8 383.3 L572.6 383.5 L567.4 386.9 L565.6 395.9 L565.6 396.1 L565.5 396.3 L565.4 396.5 L565.3 396.7 L565.1 396.9 L565.0 397.0 L564.8 397.2 L564.7 397.3 L564.5 397.4 L564.3 397.5 L564.1 397.6 L558.8 399.4 L555.2 403.0 L552.6 406.5 L552.4 406.6 L552.3 406.8 L552.1 406.9 L551.9 407.1 L551.7 407.2 L551.5 407.3 L551.3 407.3 L551.0 407.4 L550.8 407.4 L550.6 407.4 L550.4 407.3 L550.1 407.3 L549.9 407.2 L549.7 407.1 L549.5 407.0 L549.3 406.9 L549.1 406.7 L549.0 406.6 L548.9 406.4 L548.7 406.2 L548.6 406.0 L548.6 405.8 L548.5 405.5 L548.5 405.3 L548.5 405.1 L548.5 398.7 L544.3 395.4 L544.1 395.3 L544.0 395.1 L543.8 394.9 L543.7 394.7 L543.6 394.5 L543.5 394.2 L543.5 394.0 L543.4 393.8 L542.5 380.6 L540.7 378.2 L536.2 382.0 L534.5 385.4 L534.5 404.8 L534.5 405.1 L534.5 405.3 L534.4 405.5 L534.4 405.8 L531.5 412.5 L525.8 431.3Z M396.6 409.0 L396.6 429.9 L397.5 439.8 L399.4 449.1 L404.2 452.3 L408.7 450.8 L410.4 444.8 L410.5 444.6 L410.6 444.4 L410.7 444.2 L410.9 444.0 L411.0 443.8 L411.2 443.6 L415.6 440.1 L418.5 429.7 L418.6 429.4 L418.6 429.2 L422.4 421.6 L422.4 416.9 L422.5 416.7 L422.4 416.8 L422.1 416.8 L421.9 416.9 L421.7 416.9 L421.5 416.9 L421.2 416.9 L421.0 416.8 L416.1 415.6 L410.7 417.4 L408.7 418.7 L408.5 418.8 L408.3 418.9 L408.1 419.0 L407.9 419.0 L407.7 419.1 L407.4 419.1 L407.2 419.1 L407.0 419.0 L406.7 419.0 L406.5 418.9 L406.3 418.8 L406.1 418.7 L406.0 418.5 L405.8 418.4 L405.6 418.2 L405.5 418.0 L405.4 417.8 L405.3 417.6 L405.2 417.3 L403.6 410.9 L399.7 407.8 L396.6 409.0Z M423.8 414.8 L424.0 414.7 L424.2 414.6 L424.5 414.6 L424.7 414.6 L424.9 414.6 L425.1 414.6 L430.1 415.4 L435.7 415.4 L442.6 412.9 L442.9 412.9 L443.1 412.8 L443.3 412.8 L443.5 412.8 L443.7 412.8 L444.0 412.9 L444.2 412.9 L444.4 413.0 L444.6 413.1 L444.8 413.2 L445.0 413.4 L445.1 413.5 L445.3 413.7 L445.4 413.9 L445.5 414.1 L445.6 414.3 L445.6 414.5 L445.7 414.7 L445.7 415.0 L446.5 429.7 L451.1 442.4 L454.9 442.4 L455.2 442.5 L455.5 442.5 L459.2 443.4 L464.4 443.4 L464.4 443.3 L464.5 443.0 L464.5 442.8 L464.6 442.6 L464.6 442.4 L464.7 442.2 L464.8 442.0 L465.0 441.8 L465.1 441.6 L465.3 441.5 L465.5 441.3 L465.7 441.2 L465.9 441.1 L466.1 441.1 L466.3 441.0 L466.6 441.0 L466.8 441.0 L467.0 441.0 L467.2 441.0 L467.5 441.1 L467.7 441.2 L467.9 441.3 L468.1 441.4 L468.2 441.5 L468.4 441.7 L468.6 441.9 L468.7 442.0 L468.8 442.2 L468.9 442.4 L469.0 442.7 L469.5 444.5 L469.5 444.8 L471.3 457.4 L475.3 457.4 L478.6 453.3 L478.7 453.1 L478.9 453.0 L479.1 452.8 L479.3 452.7 L479.5 452.6 L479.7 452.6 L479.9 452.5 L480.1 452.5 L480.4 452.4 L489.0 452.4 L489.2 452.3 L489.3 452.1 L489.5 452.0 L489.7 451.9 L489.9 451.8 L490.2 451.7 L490.4 451.7 L490.6 451.7 L490.8 451.7 L491.1 451.7 L491.3 451.7 L494.2 452.5 L494.5 452.5 L494.7 452.6 L495.0 452.8 L500.7 456.6 L506.3 458.5 L506.5 458.6 L506.7 458.6 L506.9 458.8 L507.1 458.9 L507.2 459.0 L509.0 460.8 L511.9 463.0 L523.7 451.1 L527.0 443.6 L523.9 441.8 L518.8 444.3 L518.6 444.4 L518.4 444.5 L518.1 444.5 L512.8 445.4 L512.6 445.5 L512.4 445.5 L512.1 445.5 L511.9 445.4 L511.7 445.3 L511.5 445.3 L511.3 445.2 L511.1 445.0 L510.9 444.9 L510.8 444.7 L510.6 444.6 L510.5 444.4 L510.4 444.2 L508.8 441.2 L501.6 437.6 L494.3 437.6 L494.1 437.5 L493.9 437.5 L493.6 437.5 L493.4 437.4 L493.2 437.3 L493.0 437.2 L492.9 437.0 L492.7 436.9 L489.5 433.7 L485.7 434.4 L483.7 436.0 L483.5 436.2 L483.3 436.3 L483.1 436.4 L482.9 436.5 L482.7 436.5 L482.5 436.5 L482.2 436.6 L476.8 436.6 L476.5 436.5 L476.3 436.5 L476.1 436.5 L475.9 436.4 L475.7 436.3 L475.5 436.2 L475.3 436.0 L475.1 435.9 L475.0 435.7 L474.8 435.5 L474.7 435.3 L474.6 435.1 L474.5 434.9 L474.5 434.7 L474.5 434.5 L474.4 434.2 L474.4 427.1 L467.7 424.6 L462.8 424.6 L462.5 424.5 L462.3 424.5 L462.1 424.5 L461.9 424.4 L461.7 424.3 L461.5 424.2 L461.3 424.0 L461.1 423.9 L461.0 423.7 L460.8 423.5 L460.7 423.3 L460.6 423.1 L460.5 422.9 L460.5 422.7 L460.5 422.5 L460.4 422.2 L460.4 415.3 L451.8 413.6 L447.8 413.6 L447.5 413.5 L447.3 413.5 L447.1 413.5 L446.9 413.4 L446.7 413.3 L446.5 413.2 L446.3 413.0 L446.1 412.9 L446.0 412.7 L445.8 412.5 L445.7 412.3 L445.6 412.1 L445.5 411.9 L445.5 411.7 L445.5 411.5 L445.4 411.2 L445.4 403.4 L442.9 398.2 L438.6 396.5 L438.4 396.4 L438.2 396.3 L438.0 396.2 L437.9 396.0 L437.7 395.9 L437.6 395.7 L434.4 390.8 L432.8 391.4 L432.6 391.4 L432.4 391.5 L432.2 391.5 L431.9 391.5 L431.7 391.5 L431.5 391.4 L431.3 391.3 L431.1 391.3 L430.9 391.2 L427.4 389.0 L425.4 391.7 L421.6 404.2 L421.6 411.4 L423.2 413.0 L423.3 413.2 L423.5 413.3 L423.6 413.5 L423.7 413.8 L423.8 414.0 L423.8 414.2 L423.8 414.4 L423.9 414.7 L423.8 414.8Z M383.6 403.0 L386.3 404.4 L391.4 403.7 L391.4 380.3 L391.5 380.1 L391.5 379.9 L391.5 379.6 L391.6 379.4 L391.7 379.2 L391.8 379.0 L392.0 378.9 L392.1 378.7 L395.5 375.3 L396.5 367.8 L397.4 358.1 L395.6 348.7 L393.2 345.7 L390.5 350.5 L389.6 360.1 L389.6 376.6 L389.5 376.9 L389.5 377.1 L389.4 377.3 L389.4 377.5 L389.3 377.8 L389.1 378.0 L389.0 378.1 L388.8 378.3 L388.6 378.5 L385.4 380.9 L383.6 392.1 L383.6 403.0Z M251.7 455.0 L254.4 461.2 L258.6 467.2 L260.4 466.8 L260.4 452.2 L260.4 452.1 L260.4 451.8 L260.4 451.6 L260.4 451.4 L260.5 451.2 L260.6 450.9 L260.7 450.7 L260.8 450.5 L260.9 450.3 L261.0 450.2 L261.2 450.0 L261.4 449.9 L261.6 449.7 L261.8 449.6 L262.0 449.6 L262.2 449.5 L262.5 449.5 L262.7 449.4 L265.7 449.4 L277.1 444.7 L282.6 439.2 L282.8 439.0 L283.0 438.9 L283.2 438.8 L283.4 438.7 L283.6 438.6 L283.8 438.6 L284.0 438.5 L284.2 438.5 L284.5 438.5 L284.7 438.6 L284.9 438.6 L285.1 438.7 L285.3 438.8 L285.5 438.9 L285.7 439.0 L285.9 439.2 L286.0 439.4 L286.2 439.5 L286.3 439.7 L286.4 439.9 L286.5 440.1 L286.5 440.4 L286.5 440.6 L286.6 440.8 L286.6 441.7 L289.1 449.3 L292.7 448.6 L294.4 439.8 L294.4 429.2 L294.5 429.0 L294.5 428.8 L294.5 428.8 L294.3 428.8 L294.1 428.6 L290.8 426.7 L286.4 428.2 L286.3 428.3 L286.2 428.5 L286.0 428.7 L285.9 428.9 L285.7 429.0 L285.5 429.2 L285.3 429.3 L285.1 429.4 L284.9 429.5 L284.7 429.5 L284.5 429.6 L284.3 429.6 L284.0 429.6 L283.8 429.5 L283.6 429.5 L283.4 429.4 L283.2 429.3 L283.0 429.2 L281.1 427.9 L276.1 432.1 L275.9 432.3 L275.7 432.4 L275.5 432.5 L268.6 435.4 L268.5 435.5 L260.0 438.3 L257.6 442.3 L257.8 444.4 L257.8 444.7 L257.8 444.9 L257.8 445.1 L257.8 445.3 L257.7 445.5 L257.6 445.7 L257.5 445.9 L257.4 446.1 L257.2 446.3 L257.0 446.4 L256.9 446.6 L256.7 446.7 L256.5 446.8 L256.3 446.9 L255.1 447.3 L251.7 455.0Z M297.5 427.0 L297.6 427.1 L297.8 427.2 L300.4 428.4 L304.4 428.4 L304.4 418.5 L304.5 418.3 L304.5 418.1 L304.6 417.8 L304.6 417.6 L304.7 417.4 L304.9 417.2 L305.0 417.0 L305.2 416.9 L305.3 416.7 L305.5 416.6 L305.7 416.5 L305.9 416.4 L312.4 413.9 L312.4 412.5 L312.5 412.3 L312.5 412.0 L312.5 411.8 L312.6 411.6 L312.7 411.4 L312.8 411.2 L313.0 411.0 L313.1 410.9 L313.3 410.7 L313.5 410.6 L313.7 410.4 L313.9 410.4 L314.1 410.3 L314.3 410.2 L314.5 410.2 L314.8 410.2 L315.0 410.2 L315.2 410.2 L315.4 410.3 L315.6 410.4 L315.8 410.4 L316.0 410.6 L316.2 410.7 L319.7 407.1 L319.9 407.0 L320.0 406.8 L320.2 406.7 L320.4 406.6 L320.6 406.5 L320.9 406.5 L321.1 406.5 L321.3 406.4 L325.7 406.4 L329.6 404.9 L329.8 404.8 L330.0 404.8 L330.2 404.8 L330.4 404.7 L330.6 404.8 L330.8 404.8 L331.0 404.8 L331.2 404.9 L331.4 405.0 L334.3 406.4 L334.5 406.5 L334.7 406.7 L334.9 406.8 L335.1 407.0 L335.2 407.2 L335.3 407.4 L335.4 407.6 L335.5 407.8 L335.5 408.1 L335.6 408.3 L336.4 418.2 L339.4 417.7 L339.4 409.4 L339.5 409.1 L339.5 408.9 L339.6 408.7 L339.6 408.5 L339.7 408.3 L339.9 408.1 L340.0 407.9 L340.1 407.7 L340.3 407.6 L340.5 407.4 L340.7 407.3 L340.9 407.2 L341.1 407.2 L341.4 407.1 L341.6 407.1 L341.8 407.1 L342.0 407.1 L342.3 407.1 L342.5 407.2 L342.7 407.3 L342.9 407.4 L343.0 407.5 L344.5 405.7 L344.6 405.5 L344.8 405.4 L345.0 405.2 L345.1 405.1 L345.3 405.0 L345.6 404.9 L345.8 404.9 L346.0 404.9 L346.2 404.8 L346.5 404.8 L346.7 404.9 L346.9 404.9 L347.1 405.0 L347.3 405.1 L347.5 405.2 L347.7 405.4 L347.9 405.5 L348.0 405.7 L348.2 405.9 L348.3 406.0 L348.4 406.3 L348.4 406.5 L348.5 406.7 L348.5 406.9 L348.6 407.1 L348.6 407.4 L350.3 409.1 L353.2 407.7 L353.4 407.6 L353.6 407.5 L353.9 407.5 L354.1 407.4 L354.3 407.4 L354.5 407.4 L354.8 407.5 L355.0 407.5 L355.2 407.6 L355.4 407.7 L355.6 407.9 L355.8 408.0 L355.9 408.2 L356.1 408.3 L356.2 408.5 L356.3 408.7 L356.4 408.9 L356.5 409.1 L356.5 409.4 L356.5 409.6 L356.5 409.9 L357.5 427.2 L361.6 430.7 L361.8 430.8 L362.0 431.0 L362.1 431.2 L362.2 431.4 L362.3 431.6 L362.4 431.9 L362.4 432.1 L362.5 432.3 L362.5 433.6 L365.1 438.8 L368.1 440.0 L371.0 432.8 L371.1 432.6 L371.2 432.4 L371.4 432.2 L371.5 432.0 L371.7 431.9 L371.9 431.7 L372.1 431.6 L372.3 431.5 L372.5 431.4 L372.7 431.4 L372.9 431.4 L373.2 431.4 L373.4 431.4 L373.6 431.4 L373.9 431.5 L374.1 431.5 L374.3 431.6 L374.5 431.8 L374.6 431.9 L374.8 432.1 L375.0 432.2 L375.1 432.4 L378.5 437.8 L379.8 437.0 L385.4 424.7 L384.5 414.9 L382.8 413.7 L378.6 415.4 L378.5 415.5 L372.7 417.4 L372.5 417.4 L372.3 417.5 L372.1 417.5 L371.9 417.5 L371.7 417.5 L371.5 417.4 L371.3 417.4 L365.9 415.6 L362.5 416.2 L362.3 416.2 L362.1 416.2 L361.8 416.2 L361.6 416.1 L361.4 416.1 L361.2 416.0 L361.0 415.9 L360.8 415.7 L360.6 415.6 L360.4 415.4 L360.3 415.2 L360.2 415.1 L360.0 414.8 L360.0 414.6 L359.9 414.4 L359.9 414.2 L359.8 414.0 L359.5 402.3 L356.8 395.1 L355.1 394.3 L354.9 394.2 L354.7 394.0 L354.5 393.9 L354.3 393.7 L354.2 393.5 L354.1 393.3 L354.0 393.1 L353.9 392.9 L353.8 392.6 L353.8 392.4 L353.5 388.7 L351.0 386.2 L349.4 387.8 L349.2 388.0 L349.0 388.1 L348.8 388.2 L348.6 388.3 L348.4 388.4 L348.2 388.4 L348.0 388.5 L347.8 388.5 L347.5 388.5 L347.3 388.4 L347.1 388.4 L346.9 388.3 L346.7 388.2 L346.5 388.1 L346.3 388.0 L346.1 387.8 L346.0 387.6 L345.8 387.5 L345.7 387.3 L345.6 387.1 L345.5 386.9 L345.5 386.6 L345.5 386.6 L343.2 383.7 L341.6 386.4 L341.6 395.1 L341.5 395.3 L341.5 395.6 L341.4 395.8 L341.4 396.0 L341.3 396.2 L341.2 396.4 L341.0 396.6 L340.9 396.7 L340.7 396.9 L340.5 397.0 L340.3 397.1 L340.1 397.2 L339.9 397.3 L339.7 397.4 L339.5 397.4 L339.2 397.4 L339.0 397.4 L338.8 397.4 L338.6 397.3 L338.3 397.2 L338.1 397.1 L338.0 397.0 L337.8 396.9 L337.6 396.7 L337.5 396.5 L334.5 392.9 L332.5 393.7 L332.3 393.7 L332.1 393.8 L331.8 393.8 L331.6 393.8 L331.4 393.8 L331.1 393.8 L330.9 393.7 L330.7 393.6 L330.5 393.5 L330.3 393.4 L330.1 393.3 L330.0 393.1 L329.8 392.9 L329.7 392.7 L329.6 392.5 L329.5 392.3 L329.4 392.1 L327.6 384.8 L326.1 383.3 L323.3 386.9 L323.1 387.1 L323.0 387.2 L322.8 387.4 L317.4 391.0 L316.3 395.1 L316.2 395.4 L316.2 395.6 L316.0 395.8 L315.9 396.0 L315.8 396.1 L315.6 396.3 L315.4 396.4 L315.2 396.6 L315.0 396.7 L314.8 396.8 L314.6 396.8 L314.4 396.9 L314.1 396.9 L313.9 396.9 L313.7 396.8 L313.5 396.8 L313.2 396.7 L313.0 396.6 L312.8 396.5 L312.6 396.4 L312.5 396.2 L312.3 396.1 L312.2 395.9 L312.1 395.7 L312.0 395.5 L311.9 395.3 L311.8 395.0 L310.6 388.8 L308.4 386.6 L305.5 392.5 L303.6 402.2 L303.6 404.4 L303.5 404.7 L303.5 404.9 L303.5 405.1 L303.4 405.3 L303.3 405.5 L303.2 405.7 L303.0 405.9 L302.9 406.1 L302.7 406.2 L302.6 406.3 L302.4 406.5 L302.2 406.6 L302.0 406.6 L301.8 406.7 L301.5 406.7 L301.3 406.7 L301.1 406.7 L301.1 406.7 L297.6 418.2 L297.6 426.7 L297.5 426.9 L297.5 427.0Z M219.7 478.5 L221.4 485.3 L224.9 489.6 L228.0 490.4 L234.4 488.8 L234.4 478.8 L234.5 478.5 L234.5 478.3 L234.5 478.1 L234.6 477.9 L234.7 477.7 L234.8 477.5 L235.0 477.3 L235.0 477.2 L235.0 477.2 L232.2 475.3 L232.0 475.2 L231.9 475.0 L230.0 473.2 L228.6 472.3 L226.8 475.9 L226.7 476.1 L226.5 476.3 L226.4 476.5 L226.2 476.7 L226.0 476.8 L225.8 476.9 L225.6 477.0 L225.4 477.1 L225.2 477.2 L225.0 477.2 L224.7 477.2 L224.5 477.2 L224.3 477.2 L224.1 477.1 L223.8 477.0 L223.6 476.9 L223.4 476.8 L222.2 476.0 L219.7 478.5Z M238.0 476.8 L238.0 476.8 L238.2 477.0 L241.9 479.9 L244.4 477.4 L244.4 468.3 L242.8 463.3 L240.6 462.8 L238.6 465.5 L238.6 475.3 L238.5 475.5 L238.5 475.7 L238.5 475.9 L238.4 476.1 L238.3 476.3 L238.2 476.5 L238.0 476.7 L238.0 476.8Z M132.6 453.0 L133.4 459.1 L135.8 460.7 L140.6 463.5 L140.8 463.7 L140.9 463.8 L141.1 464.0 L141.2 464.2 L141.4 464.3 L141.5 464.6 L141.6 464.8 L142.5 467.7 L143.6 466.2 L143.8 466.1 L143.9 465.9 L144.1 465.8 L144.2 465.7 L144.4 465.6 L144.6 465.5 L148.9 463.8 L149.1 463.7 L149.3 463.7 L149.5 463.6 L149.7 463.6 L149.9 463.6 L150.2 463.7 L150.4 463.7 L150.6 463.8 L150.8 463.9 L151.0 464.0 L151.2 464.1 L151.3 464.2 L151.5 464.4 L151.6 464.6 L156.2 471.1 L156.3 471.2 L156.4 471.4 L158.1 474.7 L160.1 471.3 L160.2 471.1 L160.3 470.9 L160.5 470.8 L160.6 470.6 L160.8 470.5 L161.0 470.4 L161.2 470.3 L161.4 470.2 L161.6 470.2 L161.9 470.1 L162.1 470.1 L162.3 470.1 L162.5 470.2 L162.7 470.2 L162.9 470.3 L163.1 470.4 L163.3 470.5 L163.5 470.7 L163.7 470.8 L163.8 471.0 L164.0 471.1 L167.0 475.7 L171.3 477.4 L174.4 477.4 L174.4 474.2 L172.6 466.7 L168.9 462.1 L165.3 459.4 L165.1 459.3 L165.0 459.1 L164.8 458.9 L164.7 458.8 L164.6 458.6 L164.5 458.3 L164.5 458.1 L164.4 457.9 L162.6 445.2 L162.1 445.0 L159.7 453.7 L159.6 453.9 L159.5 454.1 L159.4 454.3 L159.3 454.5 L159.2 454.7 L159.0 454.8 L158.8 455.0 L158.6 455.1 L158.4 455.2 L158.2 455.3 L158.0 455.3 L157.8 455.4 L157.6 455.4 L157.4 455.4 L157.1 455.4 L156.9 455.3 L153.9 454.6 L153.7 454.5 L153.5 454.4 L153.3 454.3 L153.1 454.2 L153.0 454.1 L152.8 453.9 L152.7 453.8 L152.5 453.6 L148.8 448.0 L148.7 447.8 L148.6 447.6 L148.5 447.4 L148.5 447.2 L146.6 437.8 L145.3 436.5 L143.8 439.1 L143.6 439.3 L143.5 439.4 L143.3 439.6 L143.2 439.8 L143.0 439.9 L142.8 440.0 L142.6 440.1 L142.3 440.1 L142.1 440.2 L141.9 440.2 L141.7 440.2 L141.4 440.2 L141.2 440.1 L141.0 440.1 L140.8 440.0 L140.6 439.9 L140.4 439.7 L138.0 438.0 L134.4 440.8 L132.6 453.0Z M176.3 481.7 L172.4 484.8 L171.6 489.6 L173.9 492.7 L179.4 494.5 L179.6 494.6 L179.7 494.6 L179.9 494.8 L180.1 494.9 L184.7 498.6 L184.9 498.8 L185.1 498.9 L185.2 499.1 L185.3 499.3 L185.4 499.5 L185.5 499.8 L185.6 500.0 L187.2 509.1 L188.6 508.8 L189.4 500.1 L189.5 499.8 L189.5 499.6 L189.6 499.4 L189.7 499.2 L189.8 499.0 L190.0 498.8 L194.5 493.4 L194.7 491.9 L194.7 491.7 L194.7 491.4 L194.8 491.2 L194.9 491.0 L195.0 490.8 L195.2 490.7 L195.3 490.5 L198.8 487.0 L199.0 486.8 L199.2 486.7 L199.4 486.6 L205.3 483.6 L205.6 483.5 L207.5 482.9 L207.7 482.8 L208.0 482.8 L208.2 482.7 L208.4 482.7 L208.7 482.8 L208.9 482.8 L209.1 482.9 L209.3 483.0 L209.5 483.1 L209.7 483.2 L209.9 483.4 L210.0 483.6 L210.2 483.7 L210.3 483.9 L210.4 484.1 L210.4 484.4 L210.5 484.6 L210.5 484.8 L210.6 485.0 L210.6 493.6 L212.8 498.2 L215.0 497.7 L218.3 491.8 L216.6 486.8 L213.6 483.8 L213.6 483.8 L213.4 483.9 L213.2 484.0 L213.0 484.0 L212.7 484.0 L212.5 484.0 L212.3 483.9 L212.1 483.9 L211.9 483.8 L211.7 483.7 L211.5 483.6 L211.3 483.5 L211.1 483.3 L211.0 483.1 L210.8 483.0 L210.7 482.8 L210.6 482.6 L210.5 482.4 L210.5 482.1 L210.5 481.9 L210.4 481.7 L210.4 472.4 L209.0 469.6 L196.5 469.6 L194.5 470.9 L193.7 483.1 L193.7 483.4 L193.7 483.6 L193.6 483.8 L193.5 484.0 L193.4 484.3 L193.2 484.4 L191.3 486.8 L191.1 487.0 L191.0 487.2 L190.8 487.3 L190.5 487.5 L187.3 489.1 L187.1 489.2 L186.9 489.2 L186.7 489.3 L186.4 489.3 L186.2 489.3 L186.0 489.3 L185.8 489.3 L185.6 489.2 L185.4 489.1 L185.2 489.1 L185.0 488.9 L184.8 488.8 L184.6 488.7 L184.5 488.5 L184.3 488.3 L181.0 483.3 L176.3 481.7Z M121.5 504.9 L122.0 505.0 L123.5 499.7 L123.5 499.5 L123.6 499.3 L123.7 499.1 L126.6 494.3 L126.7 494.1 L126.9 493.9 L127.1 493.7 L132.5 489.2 L133.4 471.3 L132.3 469.2 L126.9 472.3 L121.5 476.7 L121.1 490.0 L121.5 504.9Z" fill="#000" stroke="#000" stroke-width="5" stroke-linecap="round" stroke-linejoin="round" stroke-dasharray="0 3.2"/>
<path d="M909.5 236.4 L909.5 247.8 L911.1 253.3 L916.5 252.6 L917.3 241.5 L917.4 241.2 L917.4 241.0 L917.5 240.8 L917.6 240.6 L917.7 240.4 L917.8 240.2 L918.0 240.1 L918.1 239.9 L918.3 239.8 L918.5 239.6 L918.7 239.5 L918.9 239.5 L919.1 239.4 L919.3 239.4 L919.5 239.3 L919.8 239.3 L920.0 239.4 L920.2 239.4 L920.4 239.5 L920.6 239.6 L920.8 239.7 L921.0 239.8 L921.2 239.9 L921.3 240.1 L921.5 240.3 L921.6 240.5 L921.7 240.7 L921.8 240.9 L921.9 241.1 L923.1 246.0 L927.3 244.6 L932.7 241.0 L935.5 231.6 L937.5 221.8 L938.0 210.2 L937.7 211.7 L937.6 211.9 L937.5 212.1 L937.4 212.3 L937.3 212.5 L937.1 212.7 L937.0 212.9 L936.8 213.0 L936.6 213.1 L936.4 213.2 L936.2 213.3 L936.0 213.4 L935.7 213.4 L935.5 213.4 L935.3 213.4 L935.1 213.4 L930.6 212.7 L927.5 216.6 L925.6 232.1 L925.5 232.3 L925.4 232.6 L925.3 232.8 L924.4 234.6 L924.3 234.8 L924.2 235.0 L924.1 235.1 L923.9 235.3 L923.7 235.4 L923.5 235.5 L923.3 235.6 L923.1 235.7 L922.9 235.8 L922.7 235.8 L922.5 235.9 L922.2 235.8 L922.0 235.8 L921.8 235.8 L921.6 235.7 L921.4 235.6 L921.2 235.5 L921.0 235.4 L920.8 235.2 L920.7 235.1 L920.5 234.9 L920.4 234.7 L920.3 234.5 L920.2 234.3 L920.2 234.1 L920.1 233.9 L920.1 233.7 L920.1 233.4 L920.1 233.2 L920.2 233.0 L920.4 231.9 L918.6 219.0 L916.5 218.0 L913.6 222.4 L914.1 227.0 L914.1 227.2 L914.1 227.5 L914.1 227.7 L914.0 227.9 L914.0 228.2 L913.9 228.4 L913.7 228.6 L913.6 228.7 L913.4 228.9 L913.3 229.1 L913.2 229.1 L909.5 236.4Z M887.5 241.7 L891.8 242.4 L897.8 239.8 L899.5 235.6 L899.6 235.4 L899.7 235.2 L899.8 235.0 L900.0 234.8 L900.2 234.7 L904.5 231.2 L906.4 215.1 L904.7 209.0 L900.3 206.4 L896.4 204.4 L896.2 204.3 L896.0 204.2 L893.0 202.0 L889.4 204.9 L887.5 212.2 L887.5 241.7Z M870.5 182.4 L875.8 182.4 L875.9 182.4 L876.2 182.4 L876.4 182.4 L876.6 182.4 L876.8 182.5 L877.0 182.5 L877.2 182.6 L877.4 182.7 L877.6 182.8 L877.8 183.0 L878.0 183.1 L878.1 183.3 L878.2 183.5 L878.3 183.7 L878.4 183.9 L878.5 184.1 L878.6 184.3 L878.6 184.4 L887.5 184.4 L887.5 160.2 L884.5 150.5 L884.5 150.3 L883.7 146.6 L881.9 146.6 L879.5 150.4 L878.8 176.3 L878.8 176.5 L878.8 176.7 L878.7 177.0 L878.6 177.2 L878.5 177.4 L878.4 177.6 L878.2 177.7 L878.1 177.9 L877.9 178.1 L877.7 178.2 L877.5 178.3 L877.3 178.4 L877.1 178.4 L876.9 178.5 L876.6 178.5 L876.4 178.5 L876.2 178.5 L876.0 178.4 L875.7 178.4 L875.5 178.3 L875.3 178.2 L875.1 178.1 L875.0 177.9 L874.8 177.7 L874.7 177.6 L874.5 177.4 L874.4 177.2 L874.3 177.0 L874.3 176.7 L874.2 176.5 L874.2 176.3 L873.5 150.1 L872.6 137.9 L870.5 138.3 L869.6 150.0 L870.5 182.4Z M736.5 171.2 L736.5 180.0 L737.5 200.0 L740.7 201.6 L747.2 204.4 L747.4 204.5 L747.6 204.6 L747.8 204.8 L747.9 204.9 L748.1 205.1 L748.2 205.3 L748.3 205.5 L748.4 205.7 L748.5 205.9 L748.6 206.1 L748.6 206.3 L749.5 219.6 L756.2 233.0 L756.3 233.0 L756.4 233.2 L756.6 233.4 L756.7 233.6 L756.8 233.8 L756.9 234.0 L756.9 234.2 L756.9 234.4 L757.0 234.7 L756.9 234.9 L756.9 235.1 L756.9 235.3 L756.8 235.5 L756.7 235.7 L756.6 235.9 L756.4 236.1 L756.3 236.3 L756.1 236.4 L755.9 236.6 L755.5 236.8 L755.5 269.9 L757.4 289.9 L761.5 288.5 L761.7 288.5 L769.5 286.8 L769.5 280.4 L769.5 280.2 L769.5 280.0 L769.6 279.7 L769.6 279.5 L769.7 279.3 L769.9 279.1 L770.0 278.9 L770.2 278.7 L770.4 278.6 L770.6 278.5 L775.2 275.7 L775.4 275.6 L783.4 272.0 L782.5 250.8 L782.5 250.6 L782.5 250.4 L782.6 250.2 L782.6 249.9 L782.7 249.7 L782.8 249.5 L783.0 249.3 L783.1 249.2 L783.3 249.0 L783.5 248.9 L783.7 248.7 L783.9 248.6 L784.1 248.6 L784.3 248.5 L784.6 248.5 L784.8 248.4 L786.2 248.4 L786.5 248.5 L786.7 248.5 L786.9 248.5 L787.1 248.6 L787.3 248.7 L787.5 248.8 L787.7 249.0 L787.9 249.1 L788.0 249.3 L788.2 249.5 L788.3 249.7 L788.4 249.9 L788.5 250.1 L788.5 250.3 L788.5 250.5 L788.5 250.8 L788.5 259.7 L792.1 267.7 L795.1 268.4 L800.5 267.7 L800.5 250.8 L800.5 250.5 L800.5 250.3 L800.5 250.1 L800.6 249.9 L800.7 249.7 L800.8 249.5 L801.0 249.3 L801.1 249.1 L801.3 249.0 L801.5 248.8 L801.7 248.7 L801.9 248.6 L802.1 248.5 L802.3 248.5 L802.5 248.5 L802.8 248.4 L807.2 248.4 L807.5 248.5 L807.7 248.5 L807.9 248.5 L808.1 248.6 L808.3 248.7 L808.5 248.8 L808.7 249.0 L808.9 249.1 L809.0 249.3 L809.2 249.5 L809.3 249.7 L809.4 249.9 L809.5 250.1 L809.5 250.3 L809.5 250.5 L809.5 250.8 L809.5 269.7 L814.9 282.2 L821.0 280.6 L821.1 280.5 L821.3 280.4 L821.5 280.2 L821.7 280.1 L821.9 280.0 L822.1 280.0 L822.3 279.9 L822.6 279.9 L822.8 279.9 L823.0 279.9 L823.2 279.9 L823.5 280.0 L823.7 280.1 L823.9 280.2 L824.1 280.3 L824.2 280.4 L824.4 280.6 L824.5 280.8 L824.7 281.0 L824.8 281.2 L824.9 281.4 L824.9 281.6 L825.0 281.8 L825.0 282.0 L825.5 289.3 L831.9 295.7 L832.1 295.9 L832.2 296.1 L832.3 296.2 L832.4 296.4 L832.5 296.6 L832.5 296.8 L832.6 297.1 L833.5 304.4 L836.0 308.2 L838.5 304.5 L839.4 290.4 L839.4 290.1 L839.5 289.9 L839.6 289.7 L839.7 289.5 L839.8 289.3 L839.9 289.1 L840.1 288.9 L840.2 288.8 L840.4 288.6 L840.6 288.5 L840.8 288.4 L847.2 285.6 L853.5 281.1 L855.4 265.1 L853.9 257.2 L853.8 257.0 L853.8 256.8 L853.8 256.5 L853.8 256.4 L841.0 254.6 L831.2 255.5 L827.0 256.1 L826.8 256.1 L826.6 256.1 L826.3 256.0 L826.1 256.0 L825.9 255.9 L825.7 255.8 L825.5 255.7 L825.3 255.6 L825.1 255.4 L825.0 255.3 L824.8 255.1 L824.7 254.9 L824.6 254.7 L824.6 254.5 L824.5 254.2 L824.5 254.0 L824.5 253.8 L824.5 236.2 L822.6 228.7 L820.5 225.7 L818.5 228.5 L818.5 247.2 L818.5 247.5 L818.5 247.7 L818.5 247.9 L818.4 248.1 L818.3 248.3 L818.2 248.5 L818.0 248.7 L817.9 248.9 L817.7 249.0 L817.5 249.2 L817.3 249.3 L817.1 249.4 L816.9 249.5 L816.7 249.5 L816.5 249.5 L816.2 249.6 L811.8 249.6 L811.5 249.5 L811.3 249.5 L811.1 249.5 L810.9 249.4 L810.7 249.3 L810.5 249.2 L810.3 249.0 L810.1 248.9 L810.0 248.7 L809.8 248.5 L809.7 248.3 L809.6 248.1 L809.5 247.9 L809.5 247.7 L809.5 247.5 L809.5 247.2 L809.5 225.4 L806.8 221.0 L806.7 220.8 L806.6 220.6 L806.5 220.4 L806.5 220.2 L806.5 220.0 L806.5 219.8 L806.5 200.5 L804.0 197.5 L801.5 200.5 L801.5 217.7 L801.5 218.0 L801.5 218.2 L801.5 218.4 L801.4 218.6 L801.3 218.8 L801.2 219.0 L801.1 219.1 L798.5 222.5 L798.5 234.5 L798.5 234.8 L798.5 235.0 L798.4 235.2 L798.4 235.4 L798.3 235.6 L798.2 235.8 L798.0 236.0 L797.9 236.2 L797.7 236.3 L797.5 236.5 L797.3 236.6 L797.1 236.7 L796.9 236.7 L796.7 236.8 L796.4 236.8 L796.2 236.8 L796.0 236.8 L795.8 236.8 L795.5 236.7 L795.3 236.6 L795.1 236.5 L794.9 236.4 L794.7 236.3 L794.6 236.1 L794.4 235.9 L794.3 235.7 L794.2 235.5 L794.1 235.3 L791.6 228.7 L791.5 228.5 L791.5 228.3 L791.5 228.1 L791.5 227.9 L791.5 200.6 L789.4 198.2 L786.5 200.7 L784.5 230.1 L784.5 231.3 L784.5 231.5 L784.5 231.7 L784.4 232.0 L784.4 232.2 L784.3 232.4 L784.2 232.6 L784.0 232.8 L783.9 232.9 L783.7 233.1 L783.5 233.2 L783.3 233.3 L783.1 233.4 L782.9 233.5 L782.7 233.6 L782.4 233.6 L782.2 233.6 L782.0 233.6 L781.7 233.5 L781.5 233.5 L776.0 231.6 L770.6 233.4 L770.4 233.5 L770.1 233.5 L769.9 233.6 L761.7 233.6 L761.5 233.5 L761.3 233.5 L761.1 233.5 L760.9 233.4 L760.7 233.3 L760.5 233.2 L760.3 233.0 L760.1 232.9 L760.0 232.7 L759.8 232.5 L759.7 232.4 L759.6 232.2 L759.5 231.9 L759.5 231.7 L759.5 231.5 L759.4 231.3 L759.0 202.1 L757.6 191.2 L752.1 189.6 L751.9 189.6 L751.7 189.5 L751.5 189.4 L751.3 189.2 L751.1 189.1 L751.0 188.9 L750.8 188.7 L750.7 188.5 L750.6 188.3 L750.6 188.1 L750.5 187.9 L750.5 187.7 L750.5 187.4 L750.5 181.2 L748.4 174.6 L748.3 174.4 L748.3 174.1 L748.2 173.9 L747.5 142.2 L745.9 136.0 L744.5 147.1 L744.5 167.4 L744.5 167.6 L744.5 167.8 L744.5 168.1 L744.4 168.3 L744.3 168.5 L744.2 168.7 L744.1 168.8 L743.9 169.0 L743.8 169.1 L743.6 169.3 L743.4 169.4 L743.2 169.5 L743.0 169.6 L742.8 169.6 L736.5 171.2Z M821.7 256.5 L821.7 256.5 L821.9 256.4 L822.2 256.4 L822.4 256.4 L822.6 256.4 L822.8 256.5 L823.1 256.6 L823.3 256.7 L823.5 256.8 L823.7 256.9 L823.8 257.0 L824.0 257.2 L824.1 257.4 L824.3 257.6 L824.4 257.8 L824.4 258.0 L824.5 258.2 L824.5 258.5 L824.5 258.7 L824.5 265.0 L824.5 265.2 L824.5 265.4 L824.5 265.7 L824.4 265.9 L824.3 266.1 L824.2 266.3 L824.0 266.4 L823.9 266.6 L823.7 266.8 L823.5 266.9 L823.4 267.0 L823.2 267.1 L822.9 267.2 L822.7 267.2 L822.5 267.3 L822.3 267.3 L822.1 267.3 L821.8 267.3 L821.6 267.2 L821.4 267.1 L821.2 267.0 L821.0 266.9 L820.8 266.8 L820.7 266.7 L820.5 266.5 L820.4 266.3 L820.2 266.1 L820.1 265.9 L820.1 265.7 L820.0 265.5 L820.0 265.3 L820.0 265.1 L819.8 258.8 L819.8 258.6 L819.8 258.4 L819.9 258.1 L819.9 257.9 L820.0 257.7 L820.1 257.5 L820.3 257.3 L820.4 257.1 L820.6 257.0 L820.8 256.8 L821.0 256.7 L821.2 256.6 L821.4 256.5 L821.6 256.5 L821.7 256.5Z M857.3 254.4 L863.5 254.4 L863.5 236.4 L863.5 236.1 L863.5 235.9 L863.6 235.7 L863.6 235.5 L863.7 235.2 L863.9 235.0 L864.0 234.9 L864.2 234.7 L864.4 234.5 L871.4 229.3 L870.5 212.1 L870.5 212.1 L869.5 190.9 L866.8 189.3 L864.5 195.3 L864.5 208.3 L864.5 208.5 L864.5 208.8 L864.4 209.0 L864.4 209.2 L864.3 209.4 L864.1 209.6 L864.0 209.8 L863.8 210.0 L863.7 210.1 L863.5 210.2 L863.3 210.3 L863.1 210.4 L862.8 210.5 L862.6 210.6 L862.4 210.6 L862.2 210.6 L861.9 210.6 L861.7 210.5 L858.5 209.7 L855.5 212.6 L855.5 239.9 L857.3 254.0 L857.3 254.2 L857.3 254.4 L857.3 254.4Z M721.7 109.5 L724.5 109.5 L725.4 90.9 L725.4 90.6 L725.5 90.4 L725.5 90.2 L725.6 90.0 L725.7 89.8 L725.9 89.6 L726.0 89.4 L726.2 89.3 L726.4 89.1 L726.6 89.0 L726.8 88.9 L727.0 88.8 L727.2 88.7 L727.4 88.7 L727.7 88.7 L727.9 88.7 L728.1 88.7 L728.3 88.8 L734.0 90.4 L735.7 89.8 L737.5 82.8 L737.5 75.1 L736.5 62.2 L735.5 58.5 L733.8 54.2 L731.3 53.3 L729.0 55.1 L727.3 56.9 L724.5 62.4 L724.5 85.4 L724.9 85.7 L725.0 85.8 L725.1 86.0 L725.3 86.2 L725.4 86.4 L725.4 86.6 L725.5 86.8 L725.5 87.1 L725.5 87.3 L725.5 87.5 L725.5 87.8 L725.4 88.0 L725.3 88.2 L725.2 88.4 L725.1 88.6 L725.0 88.8 L724.8 88.9 L724.7 89.1 L724.5 89.2 L724.4 89.3 L722.5 100.2 L721.7 109.5Z M666.7 218.5 L668.6 215.3 L671.4 209.7 L671.5 209.5 L671.7 209.3 L671.8 209.1 L672.0 209.0 L672.2 208.8 L672.3 208.7 L672.1 208.6 L672.0 208.4 L671.8 208.3 L671.7 208.1 L671.6 207.9 L671.6 207.6 L671.5 207.4 L671.5 207.2 L671.5 207.0 L671.5 203.6 L670.6 202.5 L668.4 205.7 L666.5 212.2 L666.5 218.4 L666.7 218.5Z M674.9 208.9 L675.1 209.0 L675.2 209.2 L675.4 209.4 L675.5 209.6 L675.6 209.8 L675.7 210.0 L675.7 210.2 L675.8 210.4 L675.8 210.6 L675.8 210.9 L675.6 214.0 L675.5 214.2 L675.5 214.5 L675.4 214.7 L671.5 224.3 L671.5 228.5 L672.9 230.5 L675.1 226.4 L677.5 217.6 L677.6 217.4 L680.5 209.7 L680.9 197.0 L681.0 196.7 L682.5 187.8 L683.3 177.9 L683.3 177.7 L685.7 163.9 L685.7 150.1 L685.7 149.9 L685.7 149.6 L685.8 149.4 L685.9 148.8 L686.0 148.6 L686.1 148.4 L686.2 148.2 L686.4 148.0 L686.5 147.9 L686.7 147.7 L686.9 147.6 L687.1 147.5 L687.3 147.4 L687.5 147.3 L687.7 147.3 L688.0 147.2 L688.2 147.2 L688.4 147.2 L688.6 147.3 L688.9 147.3 L689.1 147.4 L689.3 147.5 L689.5 147.6 L689.6 147.8 L689.8 147.9 L690.0 148.1 L690.1 148.3 L690.2 148.5 L690.3 148.7 L690.4 148.9 L690.4 149.1 L690.4 149.4 L690.4 149.6 L690.4 149.8 L690.4 150.0 L690.3 150.2 L690.3 169.9 L691.9 181.2 L694.4 183.4 L694.5 183.3 L695.3 173.9 L696.0 158.0 L695.5 140.2 L695.5 140.1 L695.3 140.1 L695.1 140.1 L694.9 140.0 L694.6 140.0 L694.4 139.9 L694.2 139.8 L694.0 139.6 L691.2 137.3 L691.0 137.2 L690.9 137.0 L690.7 136.8 L690.6 136.6 L690.5 136.4 L690.4 136.2 L690.4 136.0 L690.3 135.7 L690.3 135.5 L690.3 135.3 L690.4 135.1 L690.4 134.8 L690.4 134.8 L690.2 128.9 L690.2 128.7 L690.2 128.4 L690.2 128.2 L690.3 128.0 L690.4 127.8 L690.5 127.6 L690.6 127.4 L690.7 127.3 L690.6 127.3 L690.5 127.1 L690.4 126.9 L690.2 126.7 L690.2 126.5 L690.1 126.3 L690.1 126.1 L690.0 125.8 L689.5 113.8 L687.1 112.0 L685.5 113.7 L684.5 140.0 L684.5 140.2 L683.1 156.1 L683.1 156.3 L681.5 166.2 L679.9 178.2 L679.1 188.1 L679.1 188.4 L676.5 200.2 L676.0 207.1 L676.0 207.4 L676.0 207.6 L675.9 207.8 L675.8 208.0 L675.7 208.2 L675.6 208.4 L675.4 208.6 L675.2 208.7 L675.1 208.9 L674.9 208.9Z M694.1 127.2 L694.2 127.3 L694.3 127.4 L694.5 127.6 L694.6 127.8 L694.6 128.0 L697.3 136.0 L698.2 134.1 L698.3 133.9 L698.4 133.8 L698.6 133.6 L698.8 133.4 L698.9 133.3 L699.1 133.2 L699.3 133.1 L699.5 133.0 L699.8 132.9 L700.0 132.9 L700.2 132.9 L700.4 132.9 L700.7 132.9 L700.9 133.0 L701.1 133.0 L701.3 133.1 L701.5 133.3 L701.7 133.4 L701.9 133.5 L702.0 133.7 L702.2 133.9 L702.3 134.1 L702.4 134.3 L702.4 134.5 L702.5 134.7 L702.5 134.9 L702.5 135.2 L702.5 154.4 L711.5 154.4 L714.9 151.9 L715.0 151.8 L715.2 151.7 L715.4 151.6 L715.6 151.5 L715.8 151.5 L716.0 151.5 L716.2 151.4 L721.8 151.4 L723.5 143.8 L723.5 118.2 L718.0 116.6 L713.5 118.1 L713.5 127.4 L713.5 127.6 L713.5 127.8 L713.4 128.0 L713.4 128.3 L713.3 128.5 L713.1 128.7 L713.0 128.9 L712.8 129.0 L712.7 129.2 L712.5 129.3 L712.3 129.4 L712.1 129.5 L711.9 129.6 L711.6 129.6 L706.5 130.5 L704.0 132.0 L703.8 132.1 L703.6 132.2 L703.4 132.3 L703.2 132.3 L702.9 132.3 L702.7 132.3 L702.5 132.3 L702.2 132.3 L702.0 132.2 L701.8 132.1 L701.6 132.0 L701.4 131.9 L701.3 131.7 L701.1 131.6 L701.0 131.4 L700.8 131.2 L700.7 131.0 L700.6 130.8 L700.6 130.6 L700.5 130.3 L700.5 130.1 L700.5 129.9 L700.6 129.7 L700.6 129.4 L700.7 129.2 L700.8 129.0 L701.5 127.6 L702.4 100.1 L700.5 85.8 L698.3 84.2 L696.5 86.6 L695.5 100.1 L694.6 125.8 L694.6 126.1 L694.6 126.3 L694.5 126.5 L694.4 126.7 L694.3 126.9 L694.2 127.1 L694.1 127.2Z M710.5 108.5 L712.5 108.5 L712.5 90.0 L711.6 73.1 L711.5 73.1 L710.5 92.0 L710.5 108.5Z M654.5 240.9 L654.5 254.7 L657.2 260.9 L660.2 262.4 L667.5 260.7 L668.4 237.2 L665.9 236.6 L660.5 237.5 L654.5 240.9Z M525.8 431.3 L530.1 434.2 L535.5 431.1 L535.5 422.5 L535.5 422.3 L535.5 422.1 L535.6 421.8 L535.6 421.6 L535.7 421.4 L535.8 421.2 L536.0 421.0 L536.1 420.9 L536.3 420.7 L536.5 420.6 L536.7 420.5 L536.9 420.4 L538.4 419.8 L538.6 419.7 L538.8 419.6 L539.0 419.6 L539.3 419.6 L539.5 419.6 L539.7 419.7 L539.9 419.7 L540.1 419.8 L540.3 419.9 L540.5 420.0 L540.7 420.1 L540.9 420.3 L541.0 420.5 L541.2 420.6 L541.3 420.8 L541.4 421.0 L541.5 421.2 L541.5 421.5 L541.5 421.7 L541.5 421.9 L541.5 424.9 L548.3 427.4 L556.7 427.4 L561.3 425.6 L561.5 425.5 L561.7 425.5 L561.9 425.5 L562.1 425.4 L566.6 425.4 L568.4 412.0 L568.5 411.8 L568.5 411.5 L568.6 411.3 L568.7 411.1 L568.9 410.9 L574.5 403.4 L574.7 403.2 L574.9 403.0 L575.0 402.9 L575.2 402.7 L575.5 402.6 L575.7 402.6 L575.9 402.5 L576.1 402.5 L576.4 402.4 L579.9 402.4 L580.3 402.5 L585.8 403.3 L588.5 389.8 L589.6 379.5 L589.6 379.3 L589.7 379.0 L589.8 378.8 L589.9 378.6 L590.0 378.4 L590.2 378.2 L590.3 378.0 L590.5 377.9 L590.7 377.8 L593.6 376.0 L596.5 359.9 L596.5 340.2 L596.5 340.0 L596.5 339.8 L596.5 339.5 L596.6 339.3 L596.7 339.1 L605.5 321.6 L605.5 298.1 L605.5 297.8 L605.5 297.5 L607.4 290.0 L607.5 289.8 L607.6 289.5 L607.7 289.3 L607.8 289.1 L608.0 289.0 L608.1 288.8 L608.3 288.7 L608.5 288.5 L608.7 288.4 L614.5 286.0 L615.5 260.0 L615.5 259.8 L617.4 240.5 L617.4 240.3 L617.5 240.1 L617.6 239.9 L617.7 239.7 L617.8 239.5 L617.9 239.3 L618.1 239.1 L618.2 239.0 L618.4 238.8 L618.6 238.7 L618.8 238.6 L619.0 238.5 L619.2 238.5 L619.5 238.5 L619.7 238.4 L627.8 238.4 L629.4 238.0 L629.6 237.9 L629.8 237.9 L630.1 237.9 L630.3 237.9 L634.5 238.4 L634.8 238.4 L635.0 238.5 L635.2 238.6 L635.4 238.7 L635.6 238.8 L635.8 238.9 L636.0 239.1 L636.1 239.3 L636.2 239.5 L636.4 239.7 L636.4 239.9 L636.5 240.1 L636.6 240.3 L636.6 240.6 L637.5 259.6 L641.3 267.1 L641.4 267.3 L641.5 267.5 L641.6 267.7 L641.7 267.9 L641.8 268.2 L641.8 268.4 L642.5 279.9 L642.5 279.9 L643.5 295.5 L646.5 300.0 L650.8 297.9 L654.5 289.6 L656.4 270.2 L655.3 266.9 L653.7 268.5 L653.5 268.7 L653.3 268.8 L653.1 268.9 L652.9 269.0 L652.7 269.1 L652.5 269.1 L652.3 269.2 L652.0 269.2 L651.8 269.2 L651.6 269.1 L651.4 269.1 L651.2 269.0 L651.0 268.9 L650.8 268.8 L650.6 268.6 L650.4 268.5 L650.3 268.3 L647.2 264.5 L647.2 264.5 L647.0 264.4 L646.8 264.3 L646.6 264.2 L646.4 264.1 L646.2 264.0 L646.1 263.8 L645.9 263.6 L645.8 263.4 L645.7 263.2 L645.6 263.0 L645.5 262.8 L645.5 262.6 L645.5 262.2 L645.5 262.0 L644.5 240.3 L641.9 231.6 L641.6 231.6 L641.4 231.6 L641.2 231.6 L641.0 231.6 L640.8 231.5 L640.5 231.4 L640.4 231.3 L640.2 231.2 L640.0 231.1 L639.8 230.9 L639.7 230.8 L639.6 230.6 L639.4 230.4 L639.4 230.2 L639.3 230.0 L639.2 229.8 L639.2 229.6 L638.5 222.2 L638.5 222.1 L637.5 207.6 L633.9 203.1 L633.8 202.9 L633.6 202.7 L633.5 202.5 L633.5 202.3 L630.5 192.5 L630.5 192.4 L628.5 184.5 L627.2 181.9 L623.1 183.3 L619.5 190.4 L618.6 211.7 L618.5 212.0 L618.5 212.2 L618.4 212.4 L618.3 212.7 L618.2 212.9 L618.1 213.0 L617.9 213.2 L617.8 213.4 L611.4 218.8 L609.5 230.2 L605.5 258.2 L601.6 287.1 L601.5 287.3 L601.5 287.5 L601.4 287.7 L601.3 287.9 L594.5 300.4 L594.5 317.9 L594.5 318.2 L594.5 318.4 L590.5 336.3 L588.7 351.0 L588.6 351.2 L588.6 351.4 L588.5 351.6 L588.4 351.8 L588.3 352.0 L588.2 352.2 L583.2 358.0 L583.1 358.1 L582.9 358.2 L577.4 362.8 L573.6 382.0 L573.5 382.2 L573.4 382.4 L573.4 382.6 L573.2 382.8 L573.1 383.0 L573.0 383.2 L572.8 383.3 L572.6 383.5 L567.4 386.9 L565.6 395.9 L565.6 396.1 L565.5 396.3 L565.4 396.5 L565.3 396.7 L565.1 396.9 L565.0 397.0 L564.8 397.2 L564.7 397.3 L564.5 397.4 L564.3 397.5 L564.1 397.6 L558.8 399.4 L555.2 403.0 L552.6 406.5 L552.4 406.6 L552.3 406.8 L552.1 406.9 L551.9 407.1 L551.7 407.2 L551.5 407.3 L551.3 407.3 L551.0 407.4 L550.8 407.4 L550.6 407.4 L550.4 407.3 L550.1 407.3 L549.9 407.2 L549.7 407.1 L549.5 407.0 L549.3 406.9 L549.1 406.7 L549.0 406.6 L548.9 406.4 L548.7 406.2 L548.6 406.0 L548.6 405.8 L548.5 405.5 L548.5 405.3 L548.5 405.1 L548.5 398.7 L544.3 395.4 L544.1 395.3 L544.0 395.1 L543.8 394.9 L543.7 394.7 L543.6 394.5 L543.5 394.2 L543.5 394.0 L543.4 393.8 L542.5 380.6 L540.7 378.2 L536.2 382.0 L534.5 385.4 L534.5 404.8 L534.5 405.1 L534.5 405.3 L534.4 405.5 L534.4 405.8 L531.5 412.5 L525.8 431.3Z M396.6 409.0 L396.6 429.9 L397.5 439.8 L399.4 449.1 L404.2 452.3 L408.7 450.8 L410.4 444.8 L410.5 444.6 L410.6 444.4 L410.7 444.2 L410.9 444.0 L411.0 443.8 L411.2 443.6 L415.6 440.1 L418.5 429.7 L418.6 429.4 L418.6 429.2 L422.4 421.6 L422.4 416.9 L422.5 416.7 L422.4 416.8 L422.1 416.8 L421.9 416.9 L421.7 416.9 L421.5 416.9 L421.2 416.9 L421.0 416.8 L416.1 415.6 L410.7 417.4 L408.7 418.7 L408.5 418.8 L408.3 418.9 L408.1 419.0 L407.9 419.0 L407.7 419.1 L407.4 419.1 L407.2 419.1 L407.0 419.0 L406.7 419.0 L406.5 418.9 L406.3 418.8 L406.1 418.7 L406.0 418.5 L405.8 418.4 L405.6 418.2 L405.5 418.0 L405.4 417.8 L405.3 417.6 L405.2 417.3 L403.6 410.9 L399.7 407.8 L396.6 409.0Z M423.8 414.8 L424.0 414.7 L424.2 414.6 L424.5 414.6 L424.7 414.6 L424.9 414.6 L425.1 414.6 L430.1 415.4 L435.7 415.4 L442.6 412.9 L442.9 412.9 L443.1 412.8 L443.3 412.8 L443.5 412.8 L443.7 412.8 L444.0 412.9 L444.2 412.9 L444.4 413.0 L444.6 413.1 L444.8 413.2 L445.0 413.4 L445.1 413.5 L445.3 413.7 L445.4 413.9 L445.5 414.1 L445.6 414.3 L445.6 414.5 L445.7 414.7 L445.7 415.0 L446.5 429.7 L451.1 442.4 L454.9 442.4 L455.2 442.5 L455.5 442.5 L459.2 443.4 L464.4 443.4 L464.4 443.3 L464.5 443.0 L464.5 442.8 L464.6 442.6 L464.6 442.4 L464.7 442.2 L464.8 442.0 L465.0 441.8 L465.1 441.6 L465.3 441.5 L465.5 441.3 L465.7 441.2 L465.9 441.1 L466.1 441.1 L466.3 441.0 L466.6 441.0 L466.8 441.0 L467.0 441.0 L467.2 441.0 L467.5 441.1 L467.7 441.2 L467.9 441.3 L468.1 441.4 L468.2 441.5 L468.4 441.7 L468.6 441.9 L468.7 442.0 L468.8 442.2 L468.9 442.4 L469.0 442.7 L469.5 444.5 L469.5 444.8 L471.3 457.4 L475.3 457.4 L478.6 453.3 L478.7 453.1 L478.9 453.0 L479.1 452.8 L479.3 452.7 L479.5 452.6 L479.7 452.6 L479.9 452.5 L480.1 452.5 L480.4 452.4 L489.0 452.4 L489.2 452.3 L489.3 452.1 L489.5 452.0 L489.7 451.9 L489.9 451.8 L490.2 451.7 L490.4 451.7 L490.6 451.7 L490.8 451.7 L491.1 451.7 L491.3 451.7 L494.2 452.5 L494.5 452.5 L494.7 452.6 L495.0 452.8 L500.7 456.6 L506.3 458.5 L506.5 458.6 L506.7 458.6 L506.9 458.8 L507.1 458.9 L507.2 459.0 L509.0 460.8 L511.9 463.0 L523.7 451.1 L527.0 443.6 L523.9 441.8 L518.8 444.3 L518.6 444.4 L518.4 444.5 L518.1 444.5 L512.8 445.4 L512.6 445.5 L512.4 445.5 L512.1 445.5 L511.9 445.4 L511.7 445.3 L511.5 445.3 L511.3 445.2 L511.1 445.0 L510.9 444.9 L510.8 444.7 L510.6 444.6 L510.5 444.4 L510.4 444.2 L508.8 441.2 L501.6 437.6 L494.3 437.6 L494.1 437.5 L493.9 437.5 L493.6 437.5 L493.4 437.4 L493.2 437.3 L493.0 437.2 L492.9 437.0 L492.7 436.9 L489.5 433.7 L485.7 434.4 L483.7 436.0 L483.5 436.2 L483.3 436.3 L483.1 436.4 L482.9 436.5 L482.7 436.5 L482.5 436.5 L482.2 436.6 L476.8 436.6 L476.5 436.5 L476.3 436.5 L476.1 436.5 L475.9 436.4 L475.7 436.3 L475.5 436.2 L475.3 436.0 L475.1 435.9 L475.0 435.7 L474.8 435.5 L474.7 435.3 L474.6 435.1 L474.5 434.9 L474.5 434.7 L474.5 434.5 L474.4 434.2 L474.4 427.1 L467.7 424.6 L462.8 424.6 L462.5 424.5 L462.3 424.5 L462.1 424.5 L461.9 424.4 L461.7 424.3 L461.5 424.2 L461.3 424.0 L461.1 423.9 L461.0 423.7 L460.8 423.5 L460.7 423.3 L460.6 423.1 L460.5 422.9 L460.5 422.7 L460.5 422.5 L460.4 422.2 L460.4 415.3 L451.8 413.6 L447.8 413.6 L447.5 413.5 L447.3 413.5 L447.1 413.5 L446.9 413.4 L446.7 413.3 L446.5 413.2 L446.3 413.0 L446.1 412.9 L446.0 412.7 L445.8 412.5 L445.7 412.3 L445.6 412.1 L445.5 411.9 L445.5 411.7 L445.5 411.5 L445.4 411.2 L445.4 403.4 L442.9 398.2 L438.6 396.5 L438.4 396.4 L438.2 396.3 L438.0 396.2 L437.9 396.0 L437.7 395.9 L437.6 395.7 L434.4 390.8 L432.8 391.4 L432.6 391.4 L432.4 391.5 L432.2 391.5 L431.9 391.5 L431.7 391.5 L431.5 391.4 L431.3 391.3 L431.1 391.3 L430.9 391.2 L427.4 389.0 L425.4 391.7 L421.6 404.2 L421.6 411.4 L423.2 413.0 L423.3 413.2 L423.5 413.3 L423.6 413.5 L423.7 413.8 L423.8 414.0 L423.8 414.2 L423.8 414.4 L423.9 414.7 L423.8 414.8Z M383.6 403.0 L386.3 404.4 L391.4 403.7 L391.4 380.3 L391.5 380.1 L391.5 379.9 L391.5 379.6 L391.6 379.4 L391.7 379.2 L391.8 379.0 L392.0 378.9 L392.1 378.7 L395.5 375.3 L396.5 367.8 L397.4 358.1 L395.6 348.7 L393.2 345.7 L390.5 350.5 L389.6 360.1 L389.6 376.6 L389.5 376.9 L389.5 377.1 L389.4 377.3 L389.4 377.5 L389.3 377.8 L389.1 378.0 L389.0 378.1 L388.8 378.3 L388.6 378.5 L385.4 380.9 L383.6 392.1 L383.6 403.0Z M251.7 455.0 L254.4 461.2 L258.6 467.2 L260.4 466.8 L260.4 452.2 L260.4 452.1 L260.4 451.8 L260.4 451.6 L260.4 451.4 L260.5 451.2 L260.6 450.9 L260.7 450.7 L260.8 450.5 L260.9 450.3 L261.0 450.2 L261.2 450.0 L261.4 449.9 L261.6 449.7 L261.8 449.6 L262.0 449.6 L262.2 449.5 L262.5 449.5 L262.7 449.4 L265.7 449.4 L277.1 444.7 L282.6 439.2 L282.8 439.0 L283.0 438.9 L283.2 438.8 L283.4 438.7 L283.6 438.6 L283.8 438.6 L284.0 438.5 L284.2 438.5 L284.5 438.5 L284.7 438.6 L284.9 438.6 L285.1 438.7 L285.3 438.8 L285.5 438.9 L285.7 439.0 L285.9 439.2 L286.0 439.4 L286.2 439.5 L286.3 439.7 L286.4 439.9 L286.5 440.1 L286.5 440.4 L286.5 440.6 L286.6 440.8 L286.6 441.7 L289.1 449.3 L292.7 448.6 L294.4 439.8 L294.4 429.2 L294.5 429.0 L294.5 428.8 L294.5 428.8 L294.3 428.8 L294.1 428.6 L290.8 426.7 L286.4 428.2 L286.3 428.3 L286.2 428.5 L286.0 428.7 L285.9 428.9 L285.7 429.0 L285.5 429.2 L285.3 429.3 L285.1 429.4 L284.9 429.5 L284.7 429.5 L284.5 429.6 L284.3 429.6 L284.0 429.6 L283.8 429.5 L283.6 429.5 L283.4 429.4 L283.2 429.3 L283.0 429.2 L281.1 427.9 L276.1 432.1 L275.9 432.3 L275.7 432.4 L275.5 432.5 L268.6 435.4 L268.5 435.5 L260.0 438.3 L257.6 442.3 L257.8 444.4 L257.8 444.7 L257.8 444.9 L257.8 445.1 L257.8 445.3 L257.7 445.5 L257.6 445.7 L257.5 445.9 L257.4 446.1 L257.2 446.3 L257.0 446.4 L256.9 446.6 L256.7 446.7 L256.5 446.8 L256.3 446.9 L255.1 447.3 L251.7 455.0Z M297.5 427.0 L297.6 427.1 L297.8 427.2 L300.4 428.4 L304.4 428.4 L304.4 418.5 L304.5 418.3 L304.5 418.1 L304.6 417.8 L304.6 417.6 L304.7 417.4 L304.9 417.2 L305.0 417.0 L305.2 416.9 L305.3 416.7 L305.5 416.6 L305.7 416.5 L305.9 416.4 L312.4 413.9 L312.4 412.5 L312.5 412.3 L312.5 412.0 L312.5 411.8 L312.6 411.6 L312.7 411.4 L312.8 411.2 L313.0 411.0 L313.1 410.9 L313.3 410.7 L313.5 410.6 L313.7 410.4 L313.9 410.4 L314.1 410.3 L314.3 410.2 L314.5 410.2 L314.8 410.2 L315.0 410.2 L315.2 410.2 L315.4 410.3 L315.6 410.4 L315.8 410.4 L316.0 410.6 L316.2 410.7 L319.7 407.1 L319.9 407.0 L320.0 406.8 L320.2 406.7 L320.4 406.6 L320.6 406.5 L320.9 406.5 L321.1 406.5 L321.3 406.4 L325.7 406.4 L329.6 404.9 L329.8 404.8 L330.0 404.8 L330.2 404.8 L330.4 404.7 L330.6 404.8 L330.8 404.8 L331.0 404.8 L331.2 404.9 L331.4 405.0 L334.3 406.4 L334.5 406.5 L334.7 406.7 L334.9 406.8 L335.1 407.0 L335.2 407.2 L335.3 407.4 L335.4 407.6 L335.5 407.8 L335.5 408.1 L335.6 408.3 L336.4 418.2 L339.4 417.7 L339.4 409.4 L339.5 409.1 L339.5 408.9 L339.6 408.7 L339.6 408.5 L339.7 408.3 L339.9 408.1 L340.0 407.9 L340.1 407.7 L340.3 407.6 L340.5 407.4 L340.7 407.3 L340.9 407.2 L341.1 407.2 L341.4 407.1 L341.6 407.1 L341.8 407.1 L342.0 407.1 L342.3 407.1 L342.5 407.2 L342.7 407.3 L342.9 407.4 L343.0 407.5 L344.5 405.7 L344.6 405.5 L344.8 405.4 L345.0 405.2 L345.1 405.1 L345.3 405.0 L345.6 404.9 L345.8 404.9 L346.0 404.9 L346.2 404.8 L346.5 404.8 L346.7 404.9 L346.9 404.9 L347.1 405.0 L347.3 405.1 L347.5 405.2 L347.7 405.4 L347.9 405.5 L348.0 405.7 L348.2 405.9 L348.3 406.0 L348.4 406.3 L348.4 406.5 L348.5 406.7 L348.5 406.9 L348.6 407.1 L348.6 407.4 L350.3 409.1 L353.2 407.7 L353.4 407.6 L353.6 407.5 L353.9 407.5 L354.1 407.4 L354.3 407.4 L354.5 407.4 L354.8 407.5 L355.0 407.5 L355.2 407.6 L355.4 407.7 L355.6 407.9 L355.8 408.0 L355.9 408.2 L356.1 408.3 L356.2 408.5 L356.3 408.7 L356.4 408.9 L356.5 409.1 L356.5 409.4 L356.5 409.6 L356.5 409.9 L357.5 427.2 L361.6 430.7 L361.8 430.8 L362.0 431.0 L362.1 431.2 L362.2 431.4 L362.3 431.6 L362.4 431.9 L362.4 432.1 L362.5 432.3 L362.5 433.6 L365.1 438.8 L368.1 440.0 L371.0 432.8 L371.1 432.6 L371.2 432.4 L371.4 432.2 L371.5 432.0 L371.7 431.9 L371.9 431.7 L372.1 431.6 L372.3 431.5 L372.5 431.4 L372.7 431.4 L372.9 431.4 L373.2 431.4 L373.4 431.4 L373.6 431.4 L373.9 431.5 L374.1 431.5 L374.3 431.6 L374.5 431.8 L374.6 431.9 L374.8 432.1 L375.0 432.2 L375.1 432.4 L378.5 437.8 L379.8 437.0 L385.4 424.7 L384.5 414.9 L382.8 413.7 L378.6 415.4 L378.5 415.5 L372.7 417.4 L372.5 417.4 L372.3 417.5 L372.1 417.5 L371.9 417.5 L371.7 417.5 L371.5 417.4 L371.3 417.4 L365.9 415.6 L362.5 416.2 L362.3 416.2 L362.1 416.2 L361.8 416.2 L361.6 416.1 L361.4 416.1 L361.2 416.0 L361.0 415.9 L360.8 415.7 L360.6 415.6 L360.4 415.4 L360.3 415.2 L360.2 415.1 L360.0 414.8 L360.0 414.6 L359.9 414.4 L359.9 414.2 L359.8 414.0 L359.5 402.3 L356.8 395.1 L355.1 394.3 L354.9 394.2 L354.7 394.0 L354.5 393.9 L354.3 393.7 L354.2 393.5 L354.1 393.3 L354.0 393.1 L353.9 392.9 L353.8 392.6 L353.8 392.4 L353.5 388.7 L351.0 386.2 L349.4 387.8 L349.2 388.0 L349.0 388.1 L348.8 388.2 L348.6 388.3 L348.4 388.4 L348.2 388.4 L348.0 388.5 L347.8 388.5 L347.5 388.5 L347.3 388.4 L347.1 388.4 L346.9 388.3 L346.7 388.2 L346.5 388.1 L346.3 388.0 L346.1 387.8 L346.0 387.6 L345.8 387.5 L345.7 387.3 L345.6 387.1 L345.5 386.9 L345.5 386.6 L345.5 386.6 L343.2 383.7 L341.6 386.4 L341.6 395.1 L341.5 395.3 L341.5 395.6 L341.4 395.8 L341.4 396.0 L341.3 396.2 L341.2 396.4 L341.0 396.6 L340.9 396.7 L340.7 396.9 L340.5 397.0 L340.3 397.1 L340.1 397.2 L339.9 397.3 L339.7 397.4 L339.5 397.4 L339.2 397.4 L339.0 397.4 L338.8 397.4 L338.6 397.3 L338.3 397.2 L338.1 397.1 L338.0 397.0 L337.8 396.9 L337.6 396.7 L337.5 396.5 L334.5 392.9 L332.5 393.7 L332.3 393.7 L332.1 393.8 L331.8 393.8 L331.6 393.8 L331.4 393.8 L331.1 393.8 L330.9 393.7 L330.7 393.6 L330.5 393.5 L330.3 393.4 L330.1 393.3 L330.0 393.1 L329.8 392.9 L329.7 392.7 L329.6 392.5 L329.5 392.3 L329.4 392.1 L327.6 384.8 L326.1 383.3 L323.3 386.9 L323.1 387.1 L323.0 387.2 L322.8 387.4 L317.4 391.0 L316.3 395.1 L316.2 395.4 L316.2 395.6 L316.0 395.8 L315.9 396.0 L315.8 396.1 L315.6 396.3 L315.4 396.4 L315.2 396.6 L315.0 396.7 L314.8 396.8 L314.6 396.8 L314.4 396.9 L314.1 396.9 L313.9 396.9 L313.7 396.8 L313.5 396.8 L313.2 396.7 L313.0 396.6 L312.8 396.5 L312.6 396.4 L312.5 396.2 L312.3 396.1 L312.2 395.9 L312.1 395.7 L312.0 395.5 L311.9 395.3 L311.8 395.0 L310.6 388.8 L308.4 386.6 L305.5 392.5 L303.6 402.2 L303.6 404.4 L303.5 404.7 L303.5 404.9 L303.5 405.1 L303.4 405.3 L303.3 405.5 L303.2 405.7 L303.0 405.9 L302.9 406.1 L302.7 406.2 L302.6 406.3 L302.4 406.5 L302.2 406.6 L302.0 406.6 L301.8 406.7 L301.5 406.7 L301.3 406.7 L301.1 406.7 L301.1 406.7 L297.6 418.2 L297.6 426.7 L297.5 426.9 L297.5 427.0Z M219.7 478.5 L221.4 485.3 L224.9 489.6 L228.0 490.4 L234.4 488.8 L234.4 478.8 L234.5 478.5 L234.5 478.3 L234.5 478.1 L234.6 477.9 L234.7 477.7 L234.8 477.5 L235.0 477.3 L235.0 477.2 L235.0 477.2 L232.2 475.3 L232.0 475.2 L231.9 475.0 L230.0 473.2 L228.6 472.3 L226.8 475.9 L226.7 476.1 L226.5 476.3 L226.4 476.5 L226.2 476.7 L226.0 476.8 L225.8 476.9 L225.6 477.0 L225.4 477.1 L225.2 477.2 L225.0 477.2 L224.7 477.2 L224.5 477.2 L224.3 477.2 L224.1 477.1 L223.8 477.0 L223.6 476.9 L223.4 476.8 L222.2 476.0 L219.7 478.5Z M238.0 476.8 L238.0 476.8 L238.2 477.0 L241.9 479.9 L244.4 477.4 L244.4 468.3 L242.8 463.3 L240.6 462.8 L238.6 465.5 L238.6 475.3 L238.5 475.5 L238.5 475.7 L238.5 475.9 L238.4 476.1 L238.3 476.3 L238.2 476.5 L238.0 476.7 L238.0 476.8Z M132.6 453.0 L133.4 459.1 L135.8 460.7 L140.6 463.5 L140.8 463.7 L140.9 463.8 L141.1 464.0 L141.2 464.2 L141.4 464.3 L141.5 464.6 L141.6 464.8 L142.5 467.7 L143.6 466.2 L143.8 466.1 L143.9 465.9 L144.1 465.8 L144.2 465.7 L144.4 465.6 L144.6 465.5 L148.9 463.8 L149.1 463.7 L149.3 463.7 L149.5 463.6 L149.7 463.6 L149.9 463.6 L150.2 463.7 L150.4 463.7 L150.6 463.8 L150.8 463.9 L151.0 464.0 L151.2 464.1 L151.3 464.2 L151.5 464.4 L151.6 464.6 L156.2 471.1 L156.3 471.2 L156.4 471.4 L158.1 474.7 L160.1 471.3 L160.2 471.1 L160.3 470.9 L160.5 470.8 L160.6 470.6 L160.8 470.5 L161.0 470.4 L161.2 470.3 L161.4 470.2 L161.6 470.2 L161.9 470.1 L162.1 470.1 L162.3 470.1 L162.5 470.2 L162.7 470.2 L162.9 470.3 L163.1 470.4 L163.3 470.5 L163.5 470.7 L163.7 470.8 L163.8 471.0 L164.0 471.1 L167.0 475.7 L171.3 477.4 L174.4 477.4 L174.4 474.2 L172.6 466.7 L168.9 462.1 L165.3 459.4 L165.1 459.3 L165.0 459.1 L164.8 458.9 L164.7 458.8 L164.6 458.6 L164.5 458.3 L164.5 458.1 L164.4 457.9 L162.6 445.2 L162.1 445.0 L159.7 453.7 L159.6 453.9 L159.5 454.1 L159.4 454.3 L159.3 454.5 L159.2 454.7 L159.0 454.8 L158.8 455.0 L158.6 455.1 L158.4 455.2 L158.2 455.3 L158.0 455.3 L157.8 455.4 L157.6 455.4 L157.4 455.4 L157.1 455.4 L156.9 455.3 L153.9 454.6 L153.7 454.5 L153.5 454.4 L153.3 454.3 L153.1 454.2 L153.0 454.1 L152.8 453.9 L152.7 453.8 L152.5 453.6 L148.8 448.0 L148.7 447.8 L148.6 447.6 L148.5 447.4 L148.5 447.2 L146.6 437.8 L145.3 436.5 L143.8 439.1 L143.6 439.3 L143.5 439.4 L143.3 439.6 L143.2 439.8 L143.0 439.9 L142.8 440.0 L142.6 440.1 L142.3 440.1 L142.1 440.2 L141.9 440.2 L141.7 440.2 L141.4 440.2 L141.2 440.1 L141.0 440.1 L140.8 440.0 L140.6 439.9 L140.4 439.7 L138.0 438.0 L134.4 440.8 L132.6 453.0Z M176.3 481.7 L172.4 484.8 L171.6 489.6 L173.9 492.7 L179.4 494.5 L179.6 494.6 L179.7 494.6 L179.9 494.8 L180.1 494.9 L184.7 498.6 L184.9 498.8 L185.1 498.9 L185.2 499.1 L185.3 499.3 L185.4 499.5 L185.5 499.8 L185.6 500.0 L187.2 509.1 L188.6 508.8 L189.4 500.1 L189.5 499.8 L189.5 499.6 L189.6 499.4 L189.7 499.2 L189.8 499.0 L190.0 498.8 L194.5 493.4 L194.7 491.9 L194.7 491.7 L194.7 491.4 L194.8 491.2 L194.9 491.0 L195.0 490.8 L195.2 490.7 L195.3 490.5 L198.8 487.0 L199.0 486.8 L199.2 486.7 L199.4 486.6 L205.3 483.6 L205.6 483.5 L207.5 482.9 L207.7 482.8 L208.0 482.8 L208.2 482.7 L208.4 482.7 L208.7 482.8 L208.9 482.8 L209.1 482.9 L209.3 483.0 L209.5 483.1 L209.7 483.2 L209.9 483.4 L210.0 483.6 L210.2 483.7 L210.3 483.9 L210.4 484.1 L210.4 484.4 L210.5 484.6 L210.5 484.8 L210.6 485.0 L210.6 493.6 L212.8 498.2 L215.0 497.7 L218.3 491.8 L216.6 486.8 L213.6 483.8 L213.6 483.8 L213.4 483.9 L213.2 484.0 L213.0 484.0 L212.7 484.0 L212.5 484.0 L212.3 483.9 L212.1 483.9 L211.9 483.8 L211.7 483.7 L211.5 483.6 L211.3 483.5 L211.1 483.3 L211.0 483.1 L210.8 483.0 L210.7 482.8 L210.6 482.6 L210.5 482.4 L210.5 482.1 L210.5 481.9 L210.4 481.7 L210.4 472.4 L209.0 469.6 L196.5 469.6 L194.5 470.9 L193.7 483.1 L193.7 483.4 L193.7 483.6 L193.6 483.8 L193.5 484.0 L193.4 484.3 L193.2 484.4 L191.3 486.8 L191.1 487.0 L191.0 487.2 L190.8 487.3 L190.5 487.5 L187.3 489.1 L187.1 489.2 L186.9 489.2 L186.7 489.3 L186.4 489.3 L186.2 489.3 L186.0 489.3 L185.8 489.3 L185.6 489.2 L185.4 489.1 L185.2 489.1 L185.0 488.9 L184.8 488.8 L184.6 488.7 L184.5 488.5 L184.3 488.3 L181.0 483.3 L176.3 481.7Z M121.5 504.9 L122.0 505.0 L123.5 499.7 L123.5 499.5 L123.6 499.3 L123.7 499.1 L126.6 494.3 L126.7 494.1 L126.9 493.9 L127.1 493.7 L132.5 489.2 L133.4 471.3 L132.3 469.2 L126.9 472.3 L121.5 476.7 L121.1 490.0 L121.5 504.9Z" fill="none" stroke="#000" stroke-width="2.5" stroke-linejoin="round"/>
<path d="M936.4 207.2 L936.4 207.2 L936.4 207.3 L936.4 207.4 L936.4 207.4 L936.4 207.5 L936.5 207.5 L936.5 207.6 L936.5 207.6 L936.5 207.7 L936.6 207.7 L936.6 207.8 L936.7 207.8 L936.7 207.8 L936.8 207.9 L936.8 207.9 L936.9 207.9 L936.9 207.9 L937.0 207.9 L937.0 207.9 L937.1 207.9 L937.2 207.9 L937.2 207.9 L937.2 207.9 L937.4 207.8 L937.4 207.8 L937.7 207.8 L937.7 207.8 L937.9 207.8 L937.9 207.8 L938.1 207.8 L938.2 207.8 L938.4 207.8 L938.4 207.8 L938.6 207.8 L938.7 207.8 L938.9 207.9 L938.9 207.9 L939.1 208.0 L939.1 208.0 L939.3 208.1 L939.3 208.1 L939.5 208.2 L939.5 208.2 L939.6 208.3 L939.6 208.3 L939.7 208.3 L939.7 208.3 L939.8 208.3 L939.8 208.3 L939.9 208.3 L940.0 208.3 L940.0 208.3 L940.1 208.3 L940.1 208.3 L940.2 208.3 L940.2 208.2 L940.3 208.2 L940.3 208.1 L940.3 208.1 L940.4 208.1 L940.4 208.0 L940.4 207.9 L940.4 207.9 L940.5 207.8 L940.5 207.8 L940.7 202.1 L940.7 202.0 L940.7 202.0 L940.7 201.9 L940.7 201.9 L940.7 201.9 L940.7 201.9 L940.7 201.8 L940.7 201.8 L940.7 201.7 L940.7 201.7 L940.7 201.7 L940.7 201.6 L940.6 201.6 L940.6 201.6 L940.6 201.5 L940.6 201.5 L940.5 201.5 L940.5 201.5 L940.5 201.4 L940.5 201.4 L940.4 201.4 L940.4 201.4 L940.4 201.4 L940.4 201.3 L940.3 201.3 L940.3 201.3 L940.2 201.3 L940.2 201.3 L940.2 201.3 L940.2 201.3 L940.1 201.3 L940.1 201.3 L940.0 201.3 L940.0 201.3 L940.0 201.3 L939.9 201.3 L939.9 201.3 L939.9 201.3 L939.8 201.3 L939.8 201.3 L939.7 201.3 L939.7 201.3 L939.7 201.3 L939.7 201.3 L939.6 201.4 L939.6 201.4 L939.6 201.4 L939.5 201.4 L939.5 201.4 L939.5 201.5 L939.5 201.5 L937.5 203.5 L937.5 203.5 L937.4 203.5 L937.4 203.5 L937.4 203.6 L937.4 203.6 L937.4 203.6 L937.3 203.7 L937.3 203.7 L937.3 203.7 L937.3 203.7 L937.3 203.8 L937.3 203.8 L937.3 203.8 L936.4 207.2Z" fill="#000" stroke="#000" stroke-width="1" stroke-linejoin="round"/>
<g stroke="#000" stroke-linecap="round">
<path d="M250 463L250 473" stroke-width="5"/>
<path d="M876 195L876 213" stroke-width="6"/>
<path d="M894 197L899 198" stroke-width="6"/>
<path d="M872 183L887 184" stroke-width="6"/>
</g><g fill="#000">
<circle cx="396" cy="386" r="2.5"/>
<circle cx="396" cy="396" r="2.5"/>
<circle cx="397" cy="406" r="2.5"/>
<circle cx="473" cy="463" r="2.5"/>
<circle cx="473" cy="469" r="2.5"/>
<circle cx="544" cy="423" r="2.5"/>
<circle cx="544" cy="428" r="2.5"/>
<circle cx="544" cy="434" r="2.5"/>
<circle cx="615" cy="294" r="2.5"/>
<circle cx="627.5" cy="174.5" r="2.5"/>
<circle cx="626" cy="244" r="2.5"/>
<circle cx="626" cy="253" r="2.5"/>
<circle cx="639" cy="286" r="2.5"/>
<circle cx="706" cy="160" r="2.5"/>
<circle cx="717.5" cy="93" r="2.5"/>
<circle cx="744.6" cy="132.4" r="2.5"/>
<circle cx="746.6" cy="142.8" r="2.5"/>
<circle cx="736.2" cy="145.6" r="2.5"/>
<circle cx="736.6" cy="152.4" r="2.5"/>
<circle cx="756" cy="291" r="2.5"/>
<circle cx="766" cy="288" r="2.5"/>
<circle cx="776" cy="277" r="2.5"/>
<circle cx="814" cy="282" r="2.5"/>
<circle cx="895" cy="251" r="2.5"/>
<circle cx="917.2" cy="205.8" r="2.5"/>
<circle cx="885" cy="186" r="2.5"/>
<circle cx="885" cy="192" r="2.5"/>
<circle cx="871.2" cy="123.5" r="2.5"/>
<circle cx="731.2" cy="37.8" r="2.5"/>
<circle cx="731.2" cy="41.5" r="2.5"/>
<circle cx="731.4" cy="45.5" r="2.5"/>
<circle cx="871.2" cy="129" r="2.5"/>
<circle cx="883.2" cy="128" r="2.5"/>
<circle cx="883.2" cy="138" r="2.5"/>
<circle cx="883.2" cy="141" r="2.5"/>
</g>
<polyline points="120.0,474.5 123.0,479.0 128.0,469.0 131.0,465.0 134.0,467.0 137.0,464.5 140.0,466.0 143.0,462.0 146.0,463.5 148.0,460.0 151.0,459.5 154.0,468.0 158.0,466.0 161.0,464.0 164.0,468.0 168.0,470.0 172.0,474.0 175.0,474.0 178.0,479.0 181.0,476.0 184.0,476.0 187.0,483.0 192.0,480.0 195.0,482.0 198.0,484.0 200.0,485.5 204.0,488.5 208.0,487.0 214.0,482.0 217.0,487.5 223.0,479.0 227.0,478.0 233.0,475.0 238.0,473.0 240.0,473.0 244.0,465.0 247.0,463.0 249.0,466.0 253.0,459.0 257.0,450.0 261.0,449.0 266.0,449.0 270.0,444.0 272.0,446.0 276.0,438.0 280.0,439.0 288.0,424.0 296.0,421.0 302.0,419.0 308.0,410.0 311.0,414.0 320.0,401.0 326.0,402.0 333.0,400.0 335.0,404.0 340.0,399.0 343.0,407.0 351.0,399.5 354.0,403.0 362.0,408.0 370.0,406.0 375.0,411.0 383.0,404.5 387.0,408.0 390.0,410.0 394.0,413.0 398.0,415.0 403.0,409.5 407.0,416.0 414.0,408.0 417.0,412.0 424.0,416.0 429.0,417.0 434.0,412.0 438.0,419.0 444.0,416.0 447.0,417.0 452.0,423.0 458.0,427.0 463.0,429.0 467.0,430.0 472.0,433.0 476.0,435.0 480.0,437.0 487.0,445.0 490.0,442.0 492.0,446.0 497.0,441.0 500.0,448.5 505.0,443.0 509.0,441.0 512.0,445.0 518.0,443.0 522.0,437.0 524.0,439.0 529.0,429.0 532.0,433.0 538.0,420.0 542.0,417.0 546.0,415.5 550.0,416.0 554.0,413.0 557.0,409.0 560.0,402.0 563.0,406.0 567.0,394.0 571.0,383.0 576.0,377.0 580.0,371.0 584.0,363.0 587.0,359.0 591.0,350.0 595.0,337.0 600.0,308.0 602.0,296.0 604.0,286.0 608.0,267.0 612.0,252.0 616.0,234.0" fill="none" stroke="#000" stroke-width="6" stroke-linejoin="round" stroke-linecap="round"/>
<polyline points="678.0,198.0 681.0,191.0 684.0,180.0 687.0,167.0 691.0,158.0 694.0,142.0 698.0,131.0 704.0,123.0 710.0,113.0 714.0,105.0 717.0,99.0" fill="none" stroke="#000" stroke-width="6" stroke-linejoin="round" stroke-linecap="round"/>
<polyline points="740.0,158.0 743.0,168.0 745.0,177.0 749.0,188.0 752.0,201.0 757.0,209.0 760.0,215.0 764.0,228.0 768.0,239.0 771.0,250.0 775.0,264.0" fill="none" stroke="#000" stroke-width="6" stroke-linejoin="round" stroke-linecap="round"/>
<polyline points="862.0,234.0 867.0,233.0 870.0,236.0 876.0,229.0 879.0,234.0 885.0,224.0 889.0,225.0 892.8,226.2 899.2,225.4 901.6,227.8 906.4,219.8 910.4,224.6 916.8,214.2 920.8,216.6 928.0,218.2 931.2,214.2 932.8,217.4" fill="none" stroke="#000" stroke-width="6" stroke-linejoin="round" stroke-linecap="round"/>
<polyline points="120.0,474.5 123.0,479.0 128.0,469.0 131.0,465.0 134.0,467.0 137.0,464.5 140.0,466.0 143.0,462.0 146.0,463.5 148.0,460.0 151.0,459.5 154.0,468.0 158.0,466.0 161.0,464.0 164.0,468.0 168.0,470.0 172.0,474.0 175.0,474.0 178.0,479.0 181.0,476.0 184.0,476.0 187.0,483.0 192.0,480.0 195.0,482.0 198.0,484.0 200.0,485.5 204.0,488.5 208.0,487.0 211.0,485.1 214.0,482.0 217.0,487.5 220.0,482.6 223.0,479.0 227.0,478.0 230.0,477.3 233.0,475.0 238.0,473.0 240.0,473.0 244.0,465.0 247.0,463.0 249.0,466.0 253.0,459.0 257.0,450.0 261.0,449.0 266.0,449.0 270.0,444.0 272.0,446.0 276.0,438.0 280.0,439.0 282.7,433.4 285.3,429.6 288.0,424.0 290.7,422.4 293.3,422.5 296.0,421.0 299.0,419.4 302.0,419.0 305.0,415.2 308.0,410.0 311.0,414.0 314.0,408.9 317.0,405.8 320.0,401.0 323.0,401.0 326.0,402.0 329.5,401.4 333.0,400.0 335.0,404.0 340.0,399.0 343.0,407.0 345.7,403.8 348.3,402.7 351.0,399.5 354.0,403.0 356.7,404.2 359.3,407.1 362.0,408.0 364.7,406.5 367.3,407.3 370.0,406.0 375.0,411.0 377.7,408.2 380.3,407.1 383.0,404.5 387.0,408.0 390.0,410.0 394.0,413.0 398.0,415.0 403.0,409.5 407.0,416.0 410.5,411.6 414.0,408.0 417.0,412.0 420.5,414.6 424.0,416.0 429.0,417.0 434.0,412.0 438.0,419.0 441.0,417.1 444.0,416.0 447.0,417.0 452.0,423.0 455.0,425.5 458.0,427.0 463.0,429.0 467.0,430.0 472.0,433.0 476.0,435.0 480.0,437.0 483.5,440.5 487.0,445.0 490.0,442.0 492.0,446.0 497.0,441.0 500.0,448.5 505.0,443.0 509.0,441.0 512.0,445.0 515.0,444.4 518.0,443.0 522.0,437.0 524.0,439.0 529.0,429.0 532.0,433.0 535.0,425.9 538.0,420.0 542.0,417.0 546.0,415.5 550.0,416.0 554.0,413.0 557.0,409.0 560.0,402.0 563.0,406.0 567.0,394.0 571.0,383.0 576.0,377.0 580.0,371.0 584.0,363.0 587.0,359.0 591.0,350.0 595.0,337.0 600.0,308.0 602.0,296.0 604.0,286.0 608.0,267.0 612.0,252.0 616.0,234.0 621.0,230.0 624.0,232.0 626.0,240.0 631.0,239.0 635.0,240.0 638.0,245.0 641.0,251.1 644.0,256.0 649.0,250.0 652.0,243.3 655.0,238.0 658.0,241.0 663.0,229.0 667.0,222.0 670.0,216.6 673.0,210.0 678.0,198.0 681.0,191.0 684.0,180.0 687.0,167.0 691.0,158.0 694.0,142.0 698.0,131.0 701.0,126.3 704.0,123.0 707.0,118.6 710.0,113.0 714.0,105.0 717.0,99.0 721.6,95.6 723.0,100.0 726.4,108.4 731.0,120.0 734.0,132.0 737.0,145.0 740.0,158.0 743.0,168.0 745.0,177.0 749.0,188.0 752.0,201.0 757.0,209.0 760.0,215.0 764.0,228.0 768.0,239.0 771.0,250.0 775.0,264.0 780.0,256.0 784.0,261.0 787.0,255.3 790.0,251.0 794.0,253.0 797.0,253.1 800.0,252.0 805.0,254.0 808.5,250.0 812.0,247.0 816.0,251.0 819.5,247.8 823.0,243.0 828.0,245.0 831.0,244.2 834.0,245.0 837.0,244.0 840.0,241.5 844.0,238.0 848.0,240.0 851.0,235.3 854.0,232.0 856.7,233.2 859.3,232.8 862.0,234.0 867.0,233.0 870.0,236.0 873.0,233.0 876.0,229.0 879.0,234.0 882.0,228.6 885.0,224.0 889.0,225.0 892.8,226.2 896.0,226.5 899.2,225.4 901.6,227.8 906.4,219.8 910.4,224.6 913.6,218.8 916.8,214.2 920.8,216.6 924.4,218.1 928.0,218.2 931.2,214.2 932.8,217.4 935.6,213.6 938.4,211.0" fill="none" stroke="#0072b2" stroke-width="2.4" stroke-linejoin="round"/>
<path d="M938.2,214 L940.5,211.3 L944.8,211.8 L944.8,231 L941.2,234.6 L938.2,231.5 Z" fill="#0072b2"/>
<g fill="#f00" fill-opacity="0.72">
<circle cx="940.5" cy="170.3" r="2.6"/>
<circle cx="941.2" cy="181.5" r="2.6"/>
<circle cx="941.0" cy="183.5" r="2.6"/>
<circle cx="941.2" cy="185.7" r="2.6"/>
<circle cx="941.2" cy="192" r="2.6"/>
<circle cx="941.0" cy="193.5" r="2.6"/>
<circle cx="941.2" cy="195" r="2.6"/>
<circle cx="939.4" cy="201.3" r="2.6"/>
<circle cx="939.6" cy="200.5" r="2.6"/>
</g>
<rect x="79.5" y="15.5" width="906.0" height="527.0" fill="none" stroke="#000" stroke-width="1.11"/>
<path d="M74.64 511.50H79.5 M74.64 402.50H79.5 M74.64 293.50H79.5 M74.64 184.50H79.5 M74.64 75.50H79.5 M152.50 542.5V547.50 M278.50 542.5V547.50 M404.50 542.5V547.50 M530.50 542.5V547.50 M656.50 542.5V547.50 M781.50 542.5V547.50 M907.50 542.5V547.50" stroke="#000" stroke-width="1.11" fill="none"/>
<text x="69.4" y="516.20" font-family="Liberation Sans, sans-serif" font-size="13.9" text-anchor="end" textLength="25.7" lengthAdjust="spacingAndGlyphs">500</text>
<text x="69.4" y="407.20" font-family="Liberation Sans, sans-serif" font-size="13.9" text-anchor="end" textLength="34.3" lengthAdjust="spacingAndGlyphs">1000</text>
<text x="69.4" y="298.20" font-family="Liberation Sans, sans-serif" font-size="13.9" text-anchor="end" textLength="34.3" lengthAdjust="spacingAndGlyphs">1500</text>
<text x="69.4" y="189.20" font-family="Liberation Sans, sans-serif" font-size="13.9" text-anchor="end" textLength="34.3" lengthAdjust="spacingAndGlyphs">2000</text>
<text x="69.4" y="80.20" font-family="Liberation Sans, sans-serif" font-size="13.9" text-anchor="end" textLength="34.3" lengthAdjust="spacingAndGlyphs">2500</text>
<text x="151.40" y="562" font-family="Liberation Sans, sans-serif" font-size="13.9" text-anchor="middle" textLength="33.8" lengthAdjust="spacingAndGlyphs">2001</text>
<text x="277.40" y="562" font-family="Liberation Sans, sans-serif" font-size="13.9" text-anchor="middle" textLength="33.8" lengthAdjust="spacingAndGlyphs">2005</text>
<text x="403.40" y="562" font-family="Liberation Sans, sans-serif" font-size="13.9" text-anchor="middle" textLength="33.8" lengthAdjust="spacingAndGlyphs">2009</text>
<text x="529.40" y="562" font-family="Liberation Sans, sans-serif" font-size="13.9" text-anchor="middle" textLength="33.8" lengthAdjust="spacingAndGlyphs">2013</text>
<text x="655.40" y="562" font-family="Liberation Sans, sans-serif" font-size="13.9" text-anchor="middle" textLength="33.8" lengthAdjust="spacingAndGlyphs">2017</text>
<text x="780.40" y="562" font-family="Liberation Sans, sans-serif" font-size="13.9" text-anchor="middle" textLength="33.8" lengthAdjust="spacingAndGlyphs">2021</text>
<text x="906.40" y="562" font-family="Liberation Sans, sans-serif" font-size="13.9" text-anchor="middle" textLength="33.8" lengthAdjust="spacingAndGlyphs">2025</text>
<text x="532.6" y="582" font-family="Liberation Sans, sans-serif" font-size="13.9" text-anchor="middle">ds</text>
<text transform="translate(24.8,278.8) rotate(-90)" font-family="Liberation Sans, sans-serif" font-size="13.9" text-anchor="middle">y</text>
</svg>
</body></html>
